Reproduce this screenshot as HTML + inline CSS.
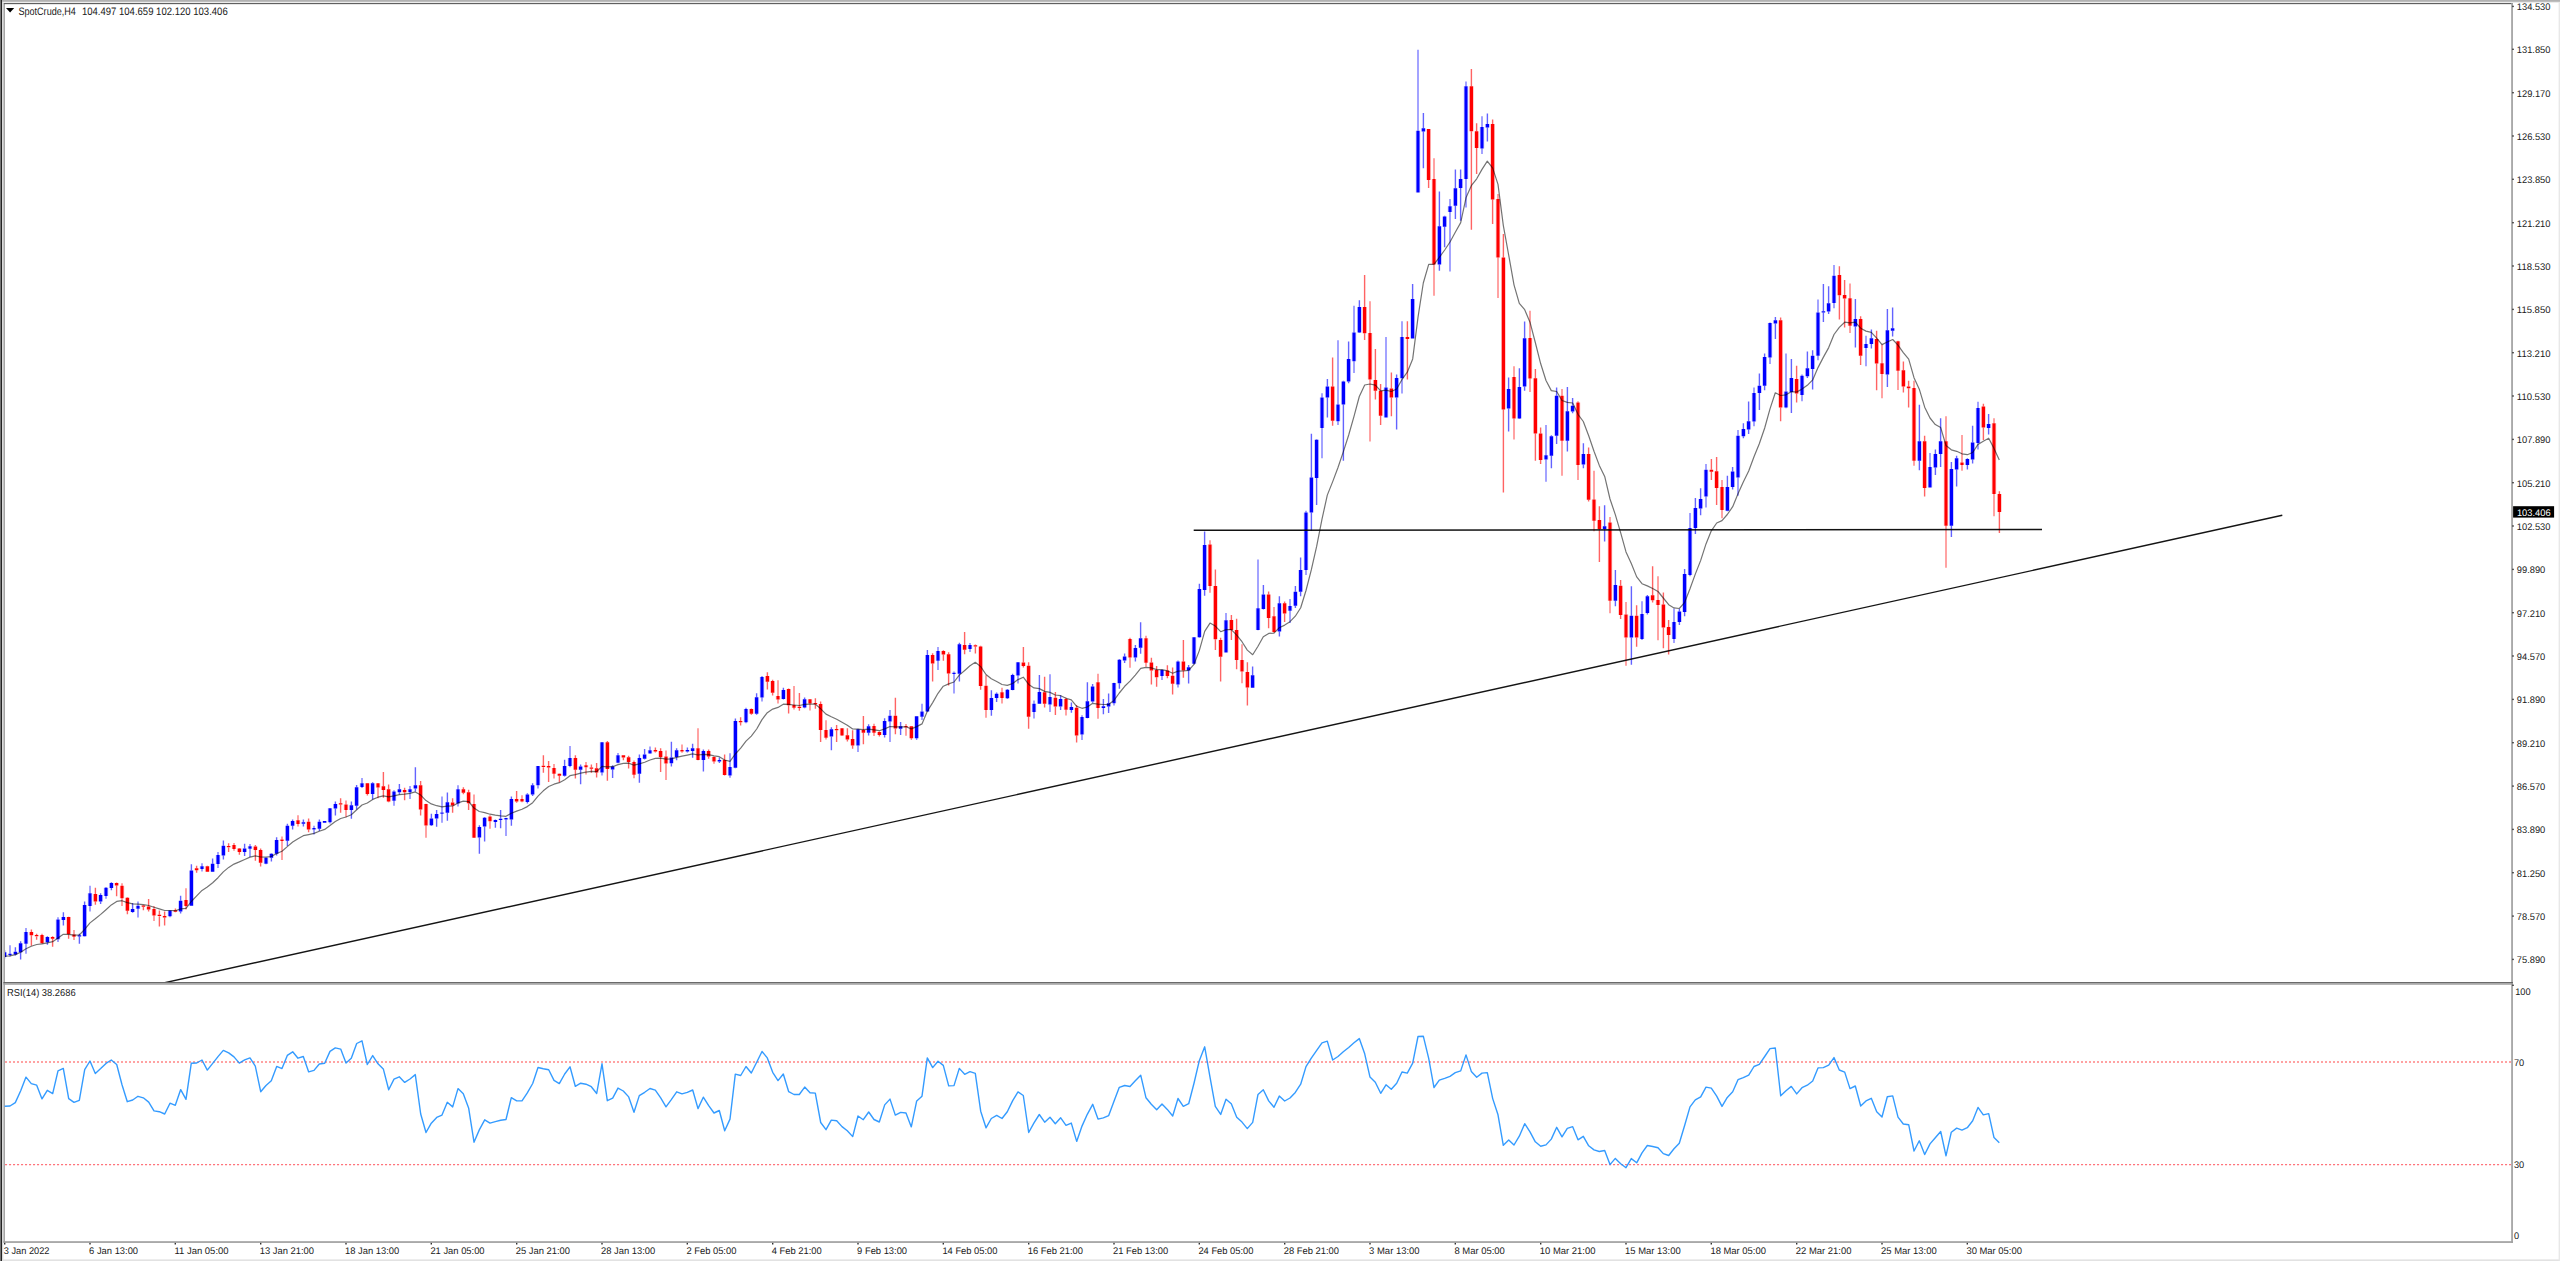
<!DOCTYPE html>
<html><head><meta charset="utf-8"><title>SpotCrude,H4</title>
<style>
html,body{margin:0;padding:0;background:#fff;overflow:hidden}
body{width:2560px;height:1261px;position:relative;font-family:"Liberation Sans",sans-serif}
svg{position:absolute;left:0;top:0;display:block;text-rendering:geometricPrecision}
text{font-family:"Liberation Sans",sans-serif;fill:#1a1a1a}
</style></head><body>
<svg width="2560" height="1261" viewBox="0 0 2560 1261">
<rect x="0" y="0" width="2560" height="1261" fill="#ffffff"/>

<g id="frame">
<rect x="0" y="0" width="2560" height="1.9" fill="#b2b2b2"/>
<rect x="0" y="1.9" width="2560" height="1.1" fill="#ececec"/>
<rect x="0" y="0" width="0.95" height="1261" fill="#747474"/>
<rect x="0.95" y="0" width="1.05" height="1261" fill="#232323"/>
<rect x="2" y="2" width="1.3" height="1259" fill="#dadada"/>
<rect x="2" y="1259.4" width="2560" height="1.6" fill="#e2e2e2"/>
<rect x="2558.6" y="2" width="1.4" height="1261" fill="#e8e8e8"/>
<rect x="3.4" y="3" width="1.6" height="1239.5" fill="#a6a6a6"/>
<rect x="3.9" y="3" width="2509" height="1.15" fill="#606060"/>
<rect x="2511.2" y="3" width="1.7" height="1240" fill="#a0a0a0"/>
<rect x="3.4" y="1241.2" width="2509.5" height="1.7" fill="#a0a0a0"/>
<rect x="3.4" y="982.1" width="2509.5" height="1.2" fill="#5a5a5a"/>
<rect x="3.4" y="983.3" width="2509.5" height="1.4" fill="#9a9a9a"/>
</g>
<g id="candles">
<path fill="#00f" fill-opacity="0.06" d="M7 953.7h1v1.4h-1zM12 953.7h1v1.4h-1zM16 947.2h1v4.5h-1zM16 954.6h1v1.0h-1zM19 941.3h1v2.0h-1zM19 952.2h1v7.4h-1zM23 931.9h1v11.8h-1zM28 931.9h1v11.8h-1zM48 936.3h1v0.8h-1zM48 942.3h1v2.4h-1zM55 919.5h1v19.8h-1zM60 919.5h1v19.8h-1zM64 912.3h1v4.7h-1zM64 920.0h1v5.4h-1zM80 933.8h1v1.4h-1zM80 936.6h1v7.1h-1zM83 901.6h1v3.5h-1zM83 936.3h1v0.2h-1zM87 893.2h1v12.9h-1zM92 893.2h1v12.9h-1zM99 893.2h1v1.7h-1zM99 901.4h1v2.7h-1zM103 887.8h1v8.1h-1zM108 887.8h1v8.1h-1zM112 882.3h1v0.7h-1zM112 887.9h1v2.3h-1zM131 903.1h1v6.0h-1zM131 912.0h1v0.7h-1zM135 905.8h1v3.0h-1zM140 905.8h1v3.0h-1zM167 910.5h1v5.8h-1zM172 910.5h1v5.8h-1zM179 895.7h1v5.1h-1zM179 911.5h1v2.0h-1zM192 864.3h1v6.2h-1zM199 866.2h1v2.9h-1zM204 866.2h1v2.9h-1zM211 858.5h1v5.3h-1zM211 871.8h1v0.3h-1zM215 854.9h1v9.1h-1zM220 854.9h1v9.1h-1zM224 840.5h1v5.3h-1zM224 855.5h1v4.1h-1zM243 843.8h1v4.7h-1zM243 852.1h1v3.9h-1zM247 846.3h1v2.5h-1zM252 846.3h1v2.5h-1zM263 857.7h1v6.1h-1zM268 857.7h1v6.1h-1zM272 853.2h1v0.6h-1zM272 857.7h1v3.9h-1zM275 837.2h1v2.7h-1zM275 853.8h1v1.7h-1zM288 823.8h1v2.0h-1zM288 840.7h1v5.3h-1zM291 819.6h1v1.5h-1zM291 825.8h1v3.6h-1zM304 819.6h1v2.6h-1zM304 823.8h1v2.8h-1zM311 828.0h1v1.6h-1zM316 828.0h1v1.6h-1zM320 819.4h1v2.4h-1zM320 828.8h1v2.2h-1zM327 808.3h1v13.9h-1zM332 808.3h1v13.9h-1zM336 801.6h1v2.3h-1zM336 808.5h1v7.0h-1zM352 801.4h1v3.8h-1zM352 810.0h1v8.8h-1zM355 785.0h1v2.2h-1zM355 805.8h1v3.6h-1zM359 783.3h1v3.7h-1zM364 783.3h1v3.7h-1zM371 782.2h1v1.1h-1zM371 793.9h1v5.5h-1zM391 791.4h1v9.3h-1zM396 791.4h1v9.3h-1zM400 783.9h1v5.3h-1zM400 792.2h1v2.2h-1zM407 789.2h1v3.0h-1zM412 789.2h1v3.0h-1zM416 767.2h1v18.1h-1zM416 788.6h1v3.0h-1zM432 813.8h1v4.8h-1zM432 825.2h1v0.8h-1zM435 810.1h1v4.0h-1zM435 818.6h1v8.2h-1zM439 812.4h1v1.4h-1zM444 812.4h1v1.4h-1zM448 792.4h1v9.8h-1zM448 812.7h1v8.1h-1zM455 789.2h1v14.3h-1zM460 789.2h1v14.3h-1zM480 825.2h1v1.9h-1zM480 837.4h1v16.4h-1zM483 817.1h1v0.6h-1zM483 826.6h1v15.0h-1zM496 819.4h1v0.5h-1zM496 821.9h1v5.8h-1zM499 810.1h1v8.6h-1zM499 820.0h1v8.2h-1zM503 818.1h1v1.3h-1zM508 818.1h1v1.3h-1zM512 796.4h1v2.6h-1zM512 819.4h1v6.3h-1zM528 793.3h1v1.1h-1zM528 801.9h1v1.6h-1zM531 783.3h1v1.9h-1zM531 794.6h1v1.4h-1zM535 766.1h1v19.2h-1zM540 766.1h1v19.2h-1zM563 759.7h1v6.4h-1zM563 775.7h1v0.7h-1zM567 758.0h1v8.1h-1zM572 758.0h1v8.1h-1zM579 764.4h1v2.2h-1zM579 769.7h1v14.5h-1zM599 742.2h1v30.2h-1zM604 742.2h1v30.2h-1zM611 765.3h1v1.1h-1zM611 769.4h1v8.6h-1zM615 755.3h1v7.4h-1zM620 755.3h1v7.4h-1zM640 754.4h1v3.6h-1zM640 773.8h1v8.9h-1zM643 749.1h1v5.3h-1zM643 758.8h1v0.6h-1zM647 750.2h1v3.4h-1zM652 750.2h1v3.4h-1zM672 741.8h1v15.6h-1zM672 763.2h1v3.4h-1zM675 748.3h1v1.9h-1zM675 757.1h1v3.1h-1zM688 747.4h1v2.7h-1zM688 751.5h1v1.0h-1zM691 743.8h1v4.5h-1zM691 751.0h1v6.7h-1zM704 749.4h1v1.6h-1zM704 759.9h1v11.7h-1zM720 757.4h1v2.5h-1zM720 761.6h1v1.3h-1zM727 767.1h1v8.3h-1zM732 767.1h1v8.3h-1zM736 718.5h1v2.6h-1zM736 767.7h1v0.5h-1zM743 709.1h1v13.1h-1zM748 709.1h1v13.1h-1zM755 693.3h1v3.9h-1zM755 713.8h1v0.9h-1zM759 677.0h1v20.4h-1zM764 677.0h1v20.4h-1zM784 687.8h1v2.2h-1zM784 698.9h1v0.5h-1zM803 697.4h1v1.8h-1zM803 707.4h1v0.9h-1zM832 727.2h1v2.0h-1zM832 736.6h1v13.6h-1zM855 729.3h1v16.1h-1zM860 729.3h1v16.1h-1zM867 724.3h1v2.0h-1zM867 732.7h1v2.7h-1zM883 718.2h1v2.8h-1zM883 734.9h1v2.5h-1zM887 715.7h1v5.9h-1zM892 715.7h1v5.9h-1zM899 722.1h1v4.2h-1zM899 728.8h1v6.1h-1zM915 716.0h1v0.3h-1zM915 738.2h1v1.5h-1zM919 711.6h1v5.2h-1zM924 711.6h1v5.2h-1zM928 650.0h1v5.0h-1zM928 711.6h1v0.3h-1zM935 651.1h1v9.7h-1zM940 651.1h1v9.7h-1zM951 672.8h1v1.3h-1zM956 672.8h1v1.3h-1zM960 642.8h1v1.4h-1zM960 673.8h1v7.8h-1zM967 645.0h1v3.9h-1zM972 645.0h1v3.9h-1zM992 690.2h1v7.7h-1zM992 709.9h1v5.8h-1zM995 692.4h1v1.4h-1zM995 697.9h1v4.0h-1zM1008 689.0h1v0.7h-1zM1008 698.3h1v0.7h-1zM1011 673.8h1v1.1h-1zM1011 689.9h1v0.3h-1zM1015 662.2h1v13.3h-1zM1020 662.2h1v13.3h-1zM1031 703.8h1v8.1h-1zM1036 703.8h1v8.1h-1zM1040 674.9h1v17.0h-1zM1040 703.8h1v0.3h-1zM1047 697.1h1v7.5h-1zM1052 697.1h1v7.5h-1zM1059 695.3h1v3.7h-1zM1059 706.6h1v3.3h-1zM1072 702.4h1v4.7h-1zM1072 709.9h1v2.8h-1zM1079 717.1h1v17.4h-1zM1084 717.1h1v17.4h-1zM1088 682.2h1v19.0h-1zM1088 717.9h1v0.3h-1zM1091 684.1h1v2.3h-1zM1091 701.6h1v1.1h-1zM1104 699.0h1v7.3h-1zM1104 707.9h1v6.4h-1zM1107 693.5h1v9.7h-1zM1107 706.6h1v6.4h-1zM1111 683.0h1v20.2h-1zM1116 683.0h1v20.2h-1zM1120 659.1h1v0.6h-1zM1120 683.3h1v5.5h-1zM1123 653.5h1v2.9h-1zM1123 660.5h1v2.6h-1zM1136 645.0h1v3.0h-1zM1136 657.5h1v4.1h-1zM1139 622.2h1v16.1h-1zM1139 647.7h1v6.1h-1zM1159 669.9h1v6.1h-1zM1164 669.9h1v6.1h-1zM1175 661.6h1v23.0h-1zM1180 661.6h1v23.0h-1zM1187 664.9h1v2.3h-1zM1187 670.5h1v13.0h-1zM1191 637.2h1v26.6h-1zM1196 637.2h1v26.6h-1zM1200 583.8h1v5.3h-1zM1200 637.3h1v0.4h-1zM1203 531.4h1v13.6h-1zM1203 589.9h1v5.9h-1zM1223 620.2h1v32.2h-1zM1228 620.2h1v32.2h-1zM1251 666.4h1v8.9h-1zM1255 608.2h1v21.7h-1zM1260 608.2h1v21.7h-1zM1264 584.9h1v9.5h-1zM1264 609.1h1v0.5h-1zM1280 596.3h1v6.9h-1zM1280 631.6h1v4.9h-1zM1287 606.0h1v4.7h-1zM1292 606.0h1v4.7h-1zM1296 586.0h1v5.8h-1zM1296 605.8h1v2.2h-1zM1299 557.4h1v12.5h-1zM1299 591.8h1v4.5h-1zM1303 512.4h1v57.5h-1zM1308 512.4h1v57.5h-1zM1312 433.7h1v43.8h-1zM1312 512.4h1v18.3h-1zM1315 439.2h1v0.5h-1zM1315 478.0h1v26.9h-1zM1319 397.4h1v30.5h-1zM1324 397.4h1v30.5h-1zM1328 379.1h1v7.5h-1zM1328 397.4h1v20.0h-1zM1335 404.5h1v16.7h-1zM1340 404.5h1v16.7h-1zM1344 380.7h1v0.9h-1zM1344 404.5h1v56.3h-1zM1347 341.6h1v17.5h-1zM1347 381.6h1v1.6h-1zM1351 332.4h1v28.8h-1zM1356 332.4h1v28.8h-1zM1360 300.3h1v6.7h-1zM1360 332.4h1v0.5h-1zM1383 387.4h1v30.0h-1zM1388 387.4h1v30.0h-1zM1395 374.6h1v3.3h-1zM1395 397.4h1v32.1h-1zM1399 336.9h1v41.3h-1zM1404 336.9h1v41.3h-1zM1411 284.1h1v15.0h-1zM1415 130.8h1v61.6h-1zM1420 130.8h1v61.6h-1zM1424 112.9h1v15.4h-1zM1424 131.6h1v36.6h-1zM1440 191.5h1v34.7h-1zM1440 264.6h1v6.2h-1zM1443 215.7h1v0.8h-1zM1443 226.8h1v20.5h-1zM1447 206.2h1v5.7h-1zM1452 206.2h1v5.7h-1zM1456 169.6h1v18.6h-1zM1456 205.7h1v13.3h-1zM1459 169.6h1v9.5h-1zM1459 187.9h1v32.8h-1zM1463 86.3h1v92.8h-1zM1468 86.3h1v92.8h-1zM1479 126.9h1v21.7h-1zM1484 126.9h1v21.7h-1zM1488 113.6h1v10.5h-1zM1488 127.4h1v14.2h-1zM1507 377.4h1v11.7h-1zM1507 408.6h1v23.0h-1zM1520 368.3h1v18.6h-1zM1520 418.6h1v0.5h-1zM1523 321.6h1v16.7h-1zM1523 386.6h1v4.2h-1zM1543 455.2h1v4.3h-1zM1548 455.2h1v4.3h-1zM1552 435.2h1v1.0h-1zM1552 455.7h1v12.5h-1zM1555 387.4h1v8.4h-1zM1555 435.7h1v8.3h-1zM1568 386.9h1v24.3h-1zM1568 440.7h1v10.8h-1zM1571 397.9h1v7.8h-1zM1571 411.6h1v1.6h-1zM1584 443.2h1v10.8h-1zM1584 464.5h1v3.7h-1zM1603 505.3h1v21.0h-1zM1603 529.1h1v12.5h-1zM1616 569.9h1v15.0h-1zM1616 600.7h1v5.5h-1zM1632 586.2h1v29.5h-1zM1632 637.4h1v27.4h-1zM1639 614.0h1v25.0h-1zM1644 614.0h1v25.0h-1zM1648 594.9h1v1.3h-1zM1648 612.9h1v1.6h-1zM1671 621.9h1v17.1h-1zM1676 621.9h1v17.1h-1zM1680 609.0h1v2.5h-1zM1680 621.9h1v3.0h-1zM1683 569.1h1v5.0h-1zM1683 611.9h1v4.3h-1zM1687 527.9h1v47.0h-1zM1692 527.9h1v47.0h-1zM1696 498.0h1v10.0h-1zM1696 527.9h1v6.2h-1zM1699 488.3h1v10.8h-1zM1699 508.6h1v6.7h-1zM1703 469.7h1v26.9h-1zM1708 469.7h1v26.9h-1zM1728 475.8h1v11.1h-1zM1728 510.7h1v0.5h-1zM1731 466.9h1v4.7h-1zM1731 486.9h1v2.7h-1zM1735 435.8h1v41.6h-1zM1740 435.8h1v41.6h-1zM1744 423.2h1v5.8h-1zM1744 436.2h1v2.0h-1zM1747 401.5h1v19.7h-1zM1747 429.5h1v4.5h-1zM1751 392.9h1v28.6h-1zM1756 392.9h1v28.6h-1zM1760 373.6h1v12.1h-1zM1760 392.9h1v17.0h-1zM1763 353.6h1v3.3h-1zM1763 385.7h1v4.5h-1zM1767 322.9h1v34.5h-1zM1772 322.9h1v34.5h-1zM1776 316.9h1v3.4h-1zM1776 323.6h1v15.5h-1zM1783 391.6h1v15.8h-1zM1788 391.6h1v15.8h-1zM1792 359.1h1v18.8h-1zM1792 391.9h1v21.0h-1zM1799 375.7h1v19.2h-1zM1804 375.7h1v19.2h-1zM1808 351.6h1v16.6h-1zM1808 376.2h1v1.7h-1zM1811 350.3h1v5.4h-1zM1811 369.1h1v20.5h-1zM1815 312.5h1v43.2h-1zM1820 312.5h1v43.2h-1zM1824 284.1h1v27.1h-1zM1824 312.6h1v9.3h-1zM1827 286.3h1v17.0h-1zM1827 311.6h1v2.5h-1zM1831 275.8h1v27.2h-1zM1836 275.8h1v27.2h-1zM1856 299.1h1v20.0h-1zM1856 326.6h1v20.8h-1zM1863 344.1h1v3.8h-1zM1868 344.1h1v3.8h-1zM1872 329.6h1v8.7h-1zM1872 344.1h1v4.5h-1zM1888 309.1h1v21.2h-1zM1888 374.6h1v12.3h-1zM1891 307.5h1v20.8h-1zM1891 330.8h1v5.8h-1zM1920 404.7h1v36.6h-1zM1920 460.8h1v9.5h-1zM1927 466.9h1v20.5h-1zM1932 466.9h1v20.5h-1zM1936 449.6h1v4.5h-1zM1936 467.4h1v7.5h-1zM1939 418.3h1v23.0h-1zM1939 454.1h1v12.8h-1zM1952 461.9h1v7.2h-1zM1952 525.7h1v11.2h-1zM1955 455.8h1v2.5h-1zM1955 469.6h1v17.0h-1zM1968 458.3h1v0.8h-1zM1968 464.9h1v4.7h-1zM1971 425.8h1v16.7h-1zM1971 459.6h1v4.0h-1zM1975 408.0h1v35.0h-1zM1980 408.0h1v35.0h-1zM1987 414.1h1v10.0h-1zM1987 428.0h1v6.6h-1z"/>
<path fill="#00f" fill-opacity="0.19" d="M5 950.2h1v2.0h-1zM5 957.1h1v1.5h-1zM14 947.2h1v4.5h-1zM14 954.6h1v1.0h-1zM17 951.7h1v2.9h-1zM18 943.3h1v8.9h-1zM21 941.3h1v2.0h-1zM21 952.2h1v7.4h-1zM46 936.3h1v0.8h-1zM46 942.3h1v2.4h-1zM49 937.1h1v5.2h-1zM62 912.3h1v4.7h-1zM62 920.0h1v5.4h-1zM65 917.0h1v3.0h-1zM78 933.8h1v1.4h-1zM78 936.6h1v7.1h-1zM81 935.2h1v1.3h-1zM82 905.1h1v31.2h-1zM85 901.6h1v3.5h-1zM85 936.3h1v0.2h-1zM98 894.9h1v6.5h-1zM101 893.2h1v1.7h-1zM101 901.4h1v2.7h-1zM110 882.3h1v0.7h-1zM110 887.9h1v2.3h-1zM113 883.0h1v4.9h-1zM130 909.1h1v2.9h-1zM133 903.1h1v6.0h-1zM133 912.0h1v0.7h-1zM178 900.8h1v10.7h-1zM181 895.7h1v5.1h-1zM181 911.5h1v2.0h-1zM190 864.3h1v6.2h-1zM193 870.5h1v35.2h-1zM210 863.8h1v8.0h-1zM213 858.5h1v5.3h-1zM213 871.8h1v0.3h-1zM222 840.5h1v5.3h-1zM222 855.5h1v4.1h-1zM225 845.8h1v9.7h-1zM242 848.5h1v3.6h-1zM245 843.8h1v4.7h-1zM245 852.1h1v3.9h-1zM270 853.2h1v0.6h-1zM270 857.7h1v3.9h-1zM273 853.8h1v3.9h-1zM274 839.9h1v13.9h-1zM277 837.2h1v2.7h-1zM277 853.8h1v1.7h-1zM286 823.8h1v2.0h-1zM286 840.7h1v5.3h-1zM289 825.8h1v14.9h-1zM290 821.1h1v4.7h-1zM293 819.6h1v1.5h-1zM293 825.8h1v3.6h-1zM302 819.6h1v2.6h-1zM302 823.8h1v2.8h-1zM305 822.2h1v1.6h-1zM318 819.4h1v2.4h-1zM318 828.8h1v2.2h-1zM321 821.8h1v7.0h-1zM322 821.1h1v1.6h-1zM334 801.6h1v2.3h-1zM334 808.5h1v7.0h-1zM337 803.9h1v4.6h-1zM350 801.4h1v3.8h-1zM350 810.0h1v8.8h-1zM353 805.2h1v4.8h-1zM354 787.2h1v18.6h-1zM357 785.0h1v2.2h-1zM357 805.8h1v3.6h-1zM370 783.3h1v10.6h-1zM373 782.2h1v1.1h-1zM373 793.9h1v5.5h-1zM398 783.9h1v5.3h-1zM398 792.2h1v2.2h-1zM401 789.2h1v3.0h-1zM414 767.2h1v18.1h-1zM414 788.6h1v3.0h-1zM417 785.3h1v3.3h-1zM430 813.8h1v4.8h-1zM430 825.2h1v0.8h-1zM433 818.6h1v6.6h-1zM434 814.1h1v4.5h-1zM437 810.1h1v4.0h-1zM437 818.6h1v8.2h-1zM446 792.4h1v9.8h-1zM446 812.7h1v8.1h-1zM449 802.2h1v10.5h-1zM478 825.2h1v1.9h-1zM478 837.4h1v16.4h-1zM481 827.1h1v10.3h-1zM482 817.7h1v8.9h-1zM485 817.1h1v0.6h-1zM485 826.6h1v15.0h-1zM494 819.4h1v0.5h-1zM494 821.9h1v5.8h-1zM497 819.9h1v2.0h-1zM498 818.7h1v1.3h-1zM501 810.1h1v8.6h-1zM501 820.0h1v8.2h-1zM510 796.4h1v2.6h-1zM510 819.4h1v6.3h-1zM513 799.0h1v20.4h-1zM526 793.3h1v1.1h-1zM526 801.9h1v1.6h-1zM529 794.4h1v7.5h-1zM530 785.2h1v9.4h-1zM533 783.3h1v1.9h-1zM533 794.6h1v1.4h-1zM562 766.1h1v9.6h-1zM565 759.7h1v6.4h-1zM565 775.7h1v0.7h-1zM578 766.6h1v3.1h-1zM581 764.4h1v2.2h-1zM581 769.7h1v14.5h-1zM610 766.4h1v3.0h-1zM613 765.3h1v1.1h-1zM613 769.4h1v8.6h-1zM638 754.4h1v3.6h-1zM638 773.8h1v8.9h-1zM641 758.0h1v15.8h-1zM642 754.4h1v4.4h-1zM645 749.1h1v5.3h-1zM645 758.8h1v0.6h-1zM670 741.8h1v15.6h-1zM670 763.2h1v3.4h-1zM673 757.4h1v5.8h-1zM674 750.2h1v6.9h-1zM677 748.3h1v1.9h-1zM677 757.1h1v3.1h-1zM686 747.4h1v2.7h-1zM686 751.5h1v1.0h-1zM689 750.1h1v1.3h-1zM690 748.3h1v2.7h-1zM693 743.8h1v4.5h-1zM693 751.0h1v6.7h-1zM702 749.4h1v1.6h-1zM702 759.9h1v11.7h-1zM705 751.0h1v8.9h-1zM718 757.4h1v2.5h-1zM718 761.6h1v1.3h-1zM721 759.9h1v1.7h-1zM734 718.5h1v2.6h-1zM734 767.7h1v0.5h-1zM737 721.1h1v46.6h-1zM754 697.2h1v16.6h-1zM757 693.3h1v3.9h-1zM757 713.8h1v0.9h-1zM782 687.8h1v2.2h-1zM782 698.9h1v0.5h-1zM785 690.0h1v8.9h-1zM802 699.2h1v8.2h-1zM805 697.4h1v1.8h-1zM805 707.4h1v0.9h-1zM830 727.2h1v2.0h-1zM830 736.6h1v13.6h-1zM833 729.2h1v7.4h-1zM866 726.3h1v6.4h-1zM869 724.3h1v2.0h-1zM869 732.7h1v2.7h-1zM882 721.0h1v13.9h-1zM885 718.2h1v2.8h-1zM885 734.9h1v2.5h-1zM898 726.3h1v2.5h-1zM901 722.1h1v4.2h-1zM901 728.8h1v6.1h-1zM914 716.3h1v21.9h-1zM917 716.0h1v0.3h-1zM917 738.2h1v1.5h-1zM926 650.0h1v5.0h-1zM926 711.6h1v0.3h-1zM929 655.0h1v56.6h-1zM958 642.8h1v1.4h-1zM958 673.8h1v7.8h-1zM961 644.2h1v29.6h-1zM990 690.2h1v7.7h-1zM990 709.9h1v5.8h-1zM993 697.9h1v12.0h-1zM994 693.8h1v4.1h-1zM997 692.4h1v1.4h-1zM997 697.9h1v4.0h-1zM1006 689.0h1v0.7h-1zM1006 698.3h1v0.7h-1zM1009 689.7h1v8.6h-1zM1010 674.9h1v15.0h-1zM1013 673.8h1v1.1h-1zM1013 689.9h1v0.3h-1zM1038 674.9h1v17.0h-1zM1038 703.8h1v0.3h-1zM1041 691.9h1v11.9h-1zM1058 699.0h1v7.6h-1zM1061 695.3h1v3.7h-1zM1061 706.6h1v3.3h-1zM1070 702.4h1v4.7h-1zM1070 709.9h1v2.8h-1zM1073 707.1h1v2.8h-1zM1086 682.2h1v19.0h-1zM1086 717.9h1v0.3h-1zM1089 701.2h1v16.7h-1zM1090 686.4h1v15.2h-1zM1093 684.1h1v2.3h-1zM1093 701.6h1v1.1h-1zM1102 699.0h1v7.3h-1zM1102 707.9h1v6.4h-1zM1105 706.3h1v1.6h-1zM1106 703.2h1v3.4h-1zM1109 693.5h1v9.7h-1zM1109 706.6h1v6.4h-1zM1118 659.1h1v0.6h-1zM1118 683.3h1v5.5h-1zM1121 659.7h1v23.6h-1zM1122 656.4h1v4.1h-1zM1125 653.5h1v2.9h-1zM1125 660.5h1v2.6h-1zM1134 645.0h1v3.0h-1zM1134 657.5h1v4.1h-1zM1137 648.0h1v9.5h-1zM1138 638.3h1v9.4h-1zM1141 622.2h1v16.1h-1zM1141 647.7h1v6.1h-1zM1186 667.2h1v3.3h-1zM1189 664.9h1v2.3h-1zM1189 670.5h1v13.0h-1zM1198 583.8h1v5.3h-1zM1198 637.3h1v0.4h-1zM1201 589.1h1v48.2h-1zM1202 545.0h1v44.9h-1zM1205 531.4h1v13.6h-1zM1205 589.9h1v5.9h-1zM1250 675.3h1v12.4h-1zM1253 666.4h1v8.9h-1zM1262 584.9h1v9.5h-1zM1262 609.1h1v0.5h-1zM1265 594.4h1v14.7h-1zM1278 596.3h1v6.9h-1zM1278 631.6h1v4.9h-1zM1281 603.2h1v28.4h-1zM1294 586.0h1v5.8h-1zM1294 605.8h1v2.2h-1zM1297 591.8h1v14.0h-1zM1298 569.9h1v21.9h-1zM1301 557.4h1v12.5h-1zM1301 591.8h1v4.5h-1zM1310 433.7h1v43.8h-1zM1310 512.4h1v18.3h-1zM1313 477.5h1v34.9h-1zM1314 439.7h1v38.3h-1zM1317 439.2h1v0.5h-1zM1317 478.0h1v26.9h-1zM1326 379.1h1v7.5h-1zM1326 397.4h1v20.0h-1zM1329 386.6h1v10.8h-1zM1342 380.7h1v0.9h-1zM1342 404.5h1v56.3h-1zM1345 381.6h1v22.9h-1zM1346 359.1h1v22.5h-1zM1349 341.6h1v17.5h-1zM1349 381.6h1v1.6h-1zM1358 300.3h1v6.7h-1zM1358 332.4h1v0.5h-1zM1361 307.0h1v25.4h-1zM1394 377.9h1v19.5h-1zM1397 374.6h1v3.3h-1zM1397 397.4h1v32.1h-1zM1410 299.1h1v39.5h-1zM1413 284.1h1v15.0h-1zM1422 112.9h1v15.4h-1zM1422 131.6h1v36.6h-1zM1425 128.3h1v3.3h-1zM1438 191.5h1v34.7h-1zM1438 264.6h1v6.2h-1zM1441 226.2h1v38.4h-1zM1442 216.5h1v10.3h-1zM1445 215.7h1v0.8h-1zM1445 226.8h1v20.5h-1zM1454 169.6h1v18.6h-1zM1454 205.7h1v13.3h-1zM1457 188.2h1v17.5h-1zM1458 179.1h1v8.8h-1zM1461 169.6h1v9.5h-1zM1461 187.9h1v32.8h-1zM1486 113.6h1v10.5h-1zM1486 127.4h1v14.2h-1zM1489 124.1h1v3.3h-1zM1506 389.1h1v19.5h-1zM1509 377.4h1v11.7h-1zM1509 408.6h1v23.0h-1zM1518 368.3h1v18.6h-1zM1518 418.6h1v0.5h-1zM1521 386.9h1v31.7h-1zM1522 338.3h1v48.3h-1zM1525 321.6h1v16.7h-1zM1525 386.6h1v4.2h-1zM1550 435.2h1v1.0h-1zM1550 455.7h1v12.5h-1zM1553 436.2h1v19.5h-1zM1554 395.8h1v39.9h-1zM1557 387.4h1v8.4h-1zM1557 435.7h1v8.3h-1zM1566 386.9h1v24.3h-1zM1566 440.7h1v10.8h-1zM1569 411.2h1v29.5h-1zM1570 405.7h1v5.9h-1zM1573 397.9h1v7.8h-1zM1573 411.6h1v1.6h-1zM1582 443.2h1v10.8h-1zM1582 464.5h1v3.7h-1zM1585 454.0h1v10.5h-1zM1602 526.3h1v2.8h-1zM1605 505.3h1v21.0h-1zM1605 529.1h1v12.5h-1zM1614 569.9h1v15.0h-1zM1614 600.7h1v5.5h-1zM1617 584.9h1v15.8h-1zM1630 586.2h1v29.5h-1zM1630 637.4h1v27.4h-1zM1633 615.7h1v21.7h-1zM1646 594.9h1v1.3h-1zM1646 612.9h1v1.6h-1zM1649 596.2h1v16.7h-1zM1678 609.0h1v2.5h-1zM1678 621.9h1v3.0h-1zM1681 611.5h1v10.4h-1zM1682 574.1h1v37.8h-1zM1685 569.1h1v5.0h-1zM1685 611.9h1v4.3h-1zM1694 498.0h1v10.0h-1zM1694 527.9h1v6.2h-1zM1697 508.0h1v19.9h-1zM1698 499.1h1v9.5h-1zM1701 488.3h1v10.8h-1zM1701 508.6h1v6.7h-1zM1726 475.8h1v11.1h-1zM1726 510.7h1v0.5h-1zM1729 486.9h1v23.8h-1zM1730 471.6h1v15.3h-1zM1733 466.9h1v4.7h-1zM1733 486.9h1v2.7h-1zM1742 423.2h1v5.8h-1zM1742 436.2h1v2.0h-1zM1745 429.0h1v7.2h-1zM1746 421.2h1v8.3h-1zM1749 401.5h1v19.7h-1zM1749 429.5h1v4.5h-1zM1758 373.6h1v12.1h-1zM1758 392.9h1v17.0h-1zM1761 385.7h1v7.2h-1zM1762 356.9h1v28.8h-1zM1765 353.6h1v3.3h-1zM1765 385.7h1v4.5h-1zM1774 316.9h1v3.4h-1zM1774 323.6h1v15.5h-1zM1777 320.3h1v3.3h-1zM1790 359.1h1v18.8h-1zM1790 391.9h1v21.0h-1zM1793 377.9h1v14.0h-1zM1806 351.6h1v16.6h-1zM1806 376.2h1v1.7h-1zM1809 368.2h1v8.0h-1zM1810 355.7h1v13.4h-1zM1813 350.3h1v5.4h-1zM1813 369.1h1v20.5h-1zM1822 284.1h1v27.1h-1zM1822 312.6h1v9.3h-1zM1825 311.2h1v1.3h-1zM1826 303.3h1v8.3h-1zM1829 286.3h1v17.0h-1zM1829 311.6h1v2.5h-1zM1854 299.1h1v20.0h-1zM1854 326.6h1v20.8h-1zM1857 319.1h1v7.5h-1zM1870 329.6h1v8.7h-1zM1870 344.1h1v4.5h-1zM1873 338.3h1v5.8h-1zM1886 309.1h1v21.2h-1zM1886 374.6h1v12.3h-1zM1889 330.3h1v44.3h-1zM1890 328.3h1v2.5h-1zM1893 307.5h1v20.8h-1zM1893 330.8h1v5.8h-1zM1918 404.7h1v36.6h-1zM1918 460.8h1v9.5h-1zM1921 441.3h1v19.5h-1zM1934 449.6h1v4.5h-1zM1934 467.4h1v7.5h-1zM1937 454.1h1v13.3h-1zM1938 441.3h1v12.8h-1zM1941 418.3h1v23.0h-1zM1941 454.1h1v12.8h-1zM1950 461.9h1v7.2h-1zM1950 525.7h1v11.2h-1zM1953 469.1h1v56.6h-1zM1954 458.3h1v11.3h-1zM1957 455.8h1v2.5h-1zM1957 469.6h1v17.0h-1zM1966 458.3h1v0.8h-1zM1966 464.9h1v4.7h-1zM1969 459.1h1v5.8h-1zM1970 442.5h1v17.1h-1zM1973 425.8h1v16.7h-1zM1973 459.6h1v4.0h-1zM1986 424.1h1v3.9h-1zM1989 414.1h1v10.0h-1zM1989 428.0h1v6.6h-1z"/>
<path fill="#00f" fill-opacity="0.36" d="M6 952.2h1v4.9h-1zM9 945.2h1v8.5h-1zM9 955.1h1v1.5h-1zM10 945.2h1v8.5h-1zM10 955.1h1v1.5h-1zM13 951.7h1v2.9h-1zM22 943.3h1v8.9h-1zM25 927.9h1v4.0h-1zM25 943.7h1v10.0h-1zM26 927.9h1v4.0h-1zM26 943.7h1v10.0h-1zM45 937.1h1v5.2h-1zM57 917.3h1v2.2h-1zM57 939.3h1v2.8h-1zM58 917.3h1v2.2h-1zM58 939.3h1v2.8h-1zM61 917.0h1v3.0h-1zM77 935.2h1v1.3h-1zM86 905.1h1v31.2h-1zM89 885.8h1v7.4h-1zM89 906.1h1v5.4h-1zM90 885.8h1v7.4h-1zM90 906.1h1v5.4h-1zM102 894.9h1v6.5h-1zM105 887.0h1v0.8h-1zM105 895.9h1v2.8h-1zM106 887.0h1v0.8h-1zM106 895.9h1v2.8h-1zM109 883.0h1v4.9h-1zM134 909.1h1v2.9h-1zM137 901.6h1v4.2h-1zM137 908.8h1v8.7h-1zM138 901.6h1v4.2h-1zM138 908.8h1v8.7h-1zM169 910.0h1v0.5h-1zM169 916.3h1v1.0h-1zM170 910.0h1v0.5h-1zM170 916.3h1v1.0h-1zM182 900.8h1v10.7h-1zM189 870.5h1v35.2h-1zM201 863.2h1v3.0h-1zM201 869.1h1v2.5h-1zM202 863.2h1v3.0h-1zM202 869.1h1v2.5h-1zM214 863.8h1v8.0h-1zM217 852.1h1v2.8h-1zM217 864.0h1v4.0h-1zM218 852.1h1v2.8h-1zM218 864.0h1v4.0h-1zM221 845.8h1v9.7h-1zM246 848.5h1v3.6h-1zM249 844.0h1v2.3h-1zM249 848.8h1v8.3h-1zM250 844.0h1v2.3h-1zM250 848.8h1v8.3h-1zM265 857.4h1v0.3h-1zM265 863.8h1v0.5h-1zM266 857.4h1v0.3h-1zM266 863.8h1v0.5h-1zM269 853.8h1v3.9h-1zM278 839.9h1v13.9h-1zM285 825.8h1v14.9h-1zM294 821.1h1v4.7h-1zM301 822.2h1v1.6h-1zM313 825.8h1v2.2h-1zM313 829.6h1v4.8h-1zM314 825.8h1v2.2h-1zM314 829.6h1v4.8h-1zM317 821.8h1v7.0h-1zM326 821.1h1v1.6h-1zM329 808.1h1v0.2h-1zM329 822.2h1v1.4h-1zM330 808.1h1v0.2h-1zM330 822.2h1v1.4h-1zM333 803.9h1v4.6h-1zM349 805.2h1v4.8h-1zM358 787.2h1v18.6h-1zM361 778.1h1v5.2h-1zM361 787.0h1v1.1h-1zM362 778.1h1v5.2h-1zM362 787.0h1v1.1h-1zM374 783.3h1v10.6h-1zM393 790.3h1v1.1h-1zM393 800.7h1v5.1h-1zM394 790.3h1v1.1h-1zM394 800.7h1v5.1h-1zM397 789.2h1v3.0h-1zM409 786.1h1v3.1h-1zM409 792.2h1v6.7h-1zM410 786.1h1v3.1h-1zM410 792.2h1v6.7h-1zM413 785.3h1v3.3h-1zM429 818.6h1v6.6h-1zM438 814.1h1v4.5h-1zM441 796.4h1v16.0h-1zM441 813.8h1v8.9h-1zM442 796.4h1v16.0h-1zM442 813.8h1v8.9h-1zM445 802.2h1v10.5h-1zM457 785.2h1v4.0h-1zM457 803.5h1v3.1h-1zM458 785.2h1v4.0h-1zM458 803.5h1v3.1h-1zM477 827.1h1v10.3h-1zM486 817.7h1v8.9h-1zM493 819.9h1v2.0h-1zM502 818.7h1v1.3h-1zM505 817.7h1v0.4h-1zM505 819.5h1v16.5h-1zM506 817.7h1v0.4h-1zM506 819.5h1v16.5h-1zM509 799.0h1v20.4h-1zM525 794.4h1v7.5h-1zM534 785.2h1v9.4h-1zM537 785.3h1v3.3h-1zM538 785.3h1v3.3h-1zM566 766.1h1v9.6h-1zM569 745.9h1v12.1h-1zM569 766.1h1v1.1h-1zM570 745.9h1v12.1h-1zM570 766.1h1v1.1h-1zM582 766.6h1v3.1h-1zM601 742.0h1v0.2h-1zM601 772.4h1v3.1h-1zM602 742.0h1v0.2h-1zM602 772.4h1v3.1h-1zM614 766.4h1v3.0h-1zM617 753.1h1v2.2h-1zM617 762.7h1v0.6h-1zM618 753.1h1v2.2h-1zM618 762.7h1v0.6h-1zM637 758.0h1v15.8h-1zM646 754.4h1v4.4h-1zM649 746.6h1v3.6h-1zM649 753.6h1v0.2h-1zM650 746.6h1v3.6h-1zM650 753.6h1v0.2h-1zM669 757.4h1v5.8h-1zM678 750.2h1v6.9h-1zM685 750.1h1v1.3h-1zM694 748.3h1v2.7h-1zM701 751.0h1v8.9h-1zM717 759.9h1v1.7h-1zM729 753.2h1v13.9h-1zM729 775.4h1v2.3h-1zM730 753.2h1v13.9h-1zM730 775.4h1v2.3h-1zM733 721.1h1v46.6h-1zM745 707.7h1v1.4h-1zM745 722.2h1v1.1h-1zM746 707.7h1v1.4h-1zM746 722.2h1v1.1h-1zM758 697.2h1v16.6h-1zM761 676.1h1v0.9h-1zM761 697.4h1v4.0h-1zM762 676.1h1v0.9h-1zM762 697.4h1v4.0h-1zM781 690.0h1v8.9h-1zM806 699.2h1v8.2h-1zM829 729.2h1v7.4h-1zM857 728.8h1v0.5h-1zM857 745.4h1v6.7h-1zM858 728.8h1v0.5h-1zM858 745.4h1v6.7h-1zM870 726.3h1v6.4h-1zM886 721.0h1v13.9h-1zM889 710.1h1v5.6h-1zM889 721.6h1v20.3h-1zM890 710.1h1v5.6h-1zM890 721.6h1v20.3h-1zM902 726.3h1v2.5h-1zM918 716.3h1v21.9h-1zM921 703.8h1v7.8h-1zM921 716.8h1v3.1h-1zM922 703.8h1v7.8h-1zM922 716.8h1v3.1h-1zM925 655.0h1v56.6h-1zM937 646.9h1v4.2h-1zM937 660.8h1v9.2h-1zM938 646.9h1v4.2h-1zM938 660.8h1v9.2h-1zM953 671.6h1v1.2h-1zM953 674.1h1v19.4h-1zM954 671.6h1v1.2h-1zM954 674.1h1v19.4h-1zM957 644.2h1v29.6h-1zM969 643.1h1v1.9h-1zM969 648.9h1v3.1h-1zM970 643.1h1v1.9h-1zM970 648.9h1v3.1h-1zM989 697.9h1v12.0h-1zM998 693.8h1v4.1h-1zM1005 689.7h1v8.6h-1zM1014 674.9h1v15.0h-1zM1017 662.0h1v0.2h-1zM1017 675.5h1v8.0h-1zM1018 662.0h1v0.2h-1zM1018 675.5h1v8.0h-1zM1033 700.5h1v3.3h-1zM1033 711.9h1v6.7h-1zM1034 700.5h1v3.3h-1zM1034 711.9h1v6.7h-1zM1037 691.9h1v11.9h-1zM1049 674.2h1v22.9h-1zM1049 704.6h1v7.3h-1zM1050 674.2h1v22.9h-1zM1050 704.6h1v7.3h-1zM1062 699.0h1v7.6h-1zM1069 707.1h1v2.8h-1zM1081 715.2h1v1.9h-1zM1081 734.5h1v5.4h-1zM1082 715.2h1v1.9h-1zM1082 734.5h1v5.4h-1zM1085 701.2h1v16.7h-1zM1094 686.4h1v15.2h-1zM1101 706.3h1v1.6h-1zM1110 703.2h1v3.4h-1zM1113 682.7h1v0.3h-1zM1113 703.2h1v2.3h-1zM1114 682.7h1v0.3h-1zM1114 703.2h1v2.3h-1zM1117 659.7h1v23.6h-1zM1126 656.4h1v4.1h-1zM1133 648.0h1v9.5h-1zM1142 638.3h1v9.4h-1zM1161 669.4h1v0.5h-1zM1161 676.0h1v3.9h-1zM1162 669.4h1v0.5h-1zM1162 676.0h1v3.9h-1zM1177 660.5h1v1.1h-1zM1177 684.6h1v2.9h-1zM1178 660.5h1v1.1h-1zM1178 684.6h1v2.9h-1zM1190 667.2h1v3.3h-1zM1193 636.9h1v0.3h-1zM1193 663.8h1v0.6h-1zM1194 636.9h1v0.3h-1zM1194 663.8h1v0.6h-1zM1197 589.1h1v48.2h-1zM1206 545.0h1v44.9h-1zM1225 612.9h1v7.3h-1zM1225 652.4h1v0.2h-1zM1226 612.9h1v7.3h-1zM1226 652.4h1v0.2h-1zM1254 675.3h1v12.4h-1zM1257 559.6h1v48.6h-1zM1257 629.9h1v0.3h-1zM1258 559.6h1v48.6h-1zM1258 629.9h1v0.3h-1zM1261 594.4h1v14.7h-1zM1277 603.2h1v28.4h-1zM1289 599.1h1v6.9h-1zM1289 610.7h1v12.2h-1zM1290 599.1h1v6.9h-1zM1290 610.7h1v12.2h-1zM1293 591.8h1v14.0h-1zM1302 569.9h1v21.9h-1zM1305 510.8h1v1.6h-1zM1305 569.9h1v5.0h-1zM1306 510.8h1v1.6h-1zM1306 569.9h1v5.0h-1zM1309 477.5h1v34.9h-1zM1318 439.7h1v38.3h-1zM1321 393.2h1v4.2h-1zM1321 427.9h1v30.3h-1zM1322 393.2h1v4.2h-1zM1322 427.9h1v30.3h-1zM1325 386.6h1v10.8h-1zM1337 340.3h1v64.2h-1zM1337 421.2h1v3.7h-1zM1338 340.3h1v64.2h-1zM1338 421.2h1v3.7h-1zM1341 381.6h1v22.9h-1zM1350 359.1h1v22.5h-1zM1353 305.8h1v26.6h-1zM1353 361.2h1v11.7h-1zM1354 305.8h1v26.6h-1zM1354 361.2h1v11.7h-1zM1357 307.0h1v25.4h-1zM1385 336.9h1v50.5h-1zM1386 336.9h1v50.5h-1zM1398 377.9h1v19.5h-1zM1401 321.3h1v15.6h-1zM1401 378.2h1v15.3h-1zM1402 321.3h1v15.6h-1zM1402 378.2h1v15.3h-1zM1414 299.1h1v39.5h-1zM1417 49.7h1v81.1h-1zM1418 49.7h1v81.1h-1zM1421 128.3h1v3.3h-1zM1437 226.2h1v38.4h-1zM1446 216.5h1v10.3h-1zM1449 199.0h1v7.2h-1zM1449 211.9h1v59.7h-1zM1450 199.0h1v7.2h-1zM1450 211.9h1v59.7h-1zM1453 188.2h1v17.5h-1zM1462 179.1h1v8.8h-1zM1465 81.6h1v4.7h-1zM1465 179.1h1v28.3h-1zM1466 81.6h1v4.7h-1zM1466 179.1h1v28.3h-1zM1481 116.3h1v10.6h-1zM1481 148.6h1v5.5h-1zM1482 116.3h1v10.6h-1zM1482 148.6h1v5.5h-1zM1485 124.1h1v3.3h-1zM1510 389.1h1v19.5h-1zM1517 386.9h1v31.7h-1zM1526 338.3h1v48.3h-1zM1545 424.9h1v30.3h-1zM1545 459.5h1v22.3h-1zM1546 424.9h1v30.3h-1zM1546 459.5h1v22.3h-1zM1549 436.2h1v19.5h-1zM1558 395.8h1v39.9h-1zM1565 411.2h1v29.5h-1zM1574 405.7h1v5.9h-1zM1581 454.0h1v10.5h-1zM1606 526.3h1v2.8h-1zM1613 584.9h1v15.8h-1zM1629 615.7h1v21.7h-1zM1641 601.2h1v12.8h-1zM1641 639.0h1v0.9h-1zM1642 601.2h1v12.8h-1zM1642 639.0h1v0.9h-1zM1645 596.2h1v16.7h-1zM1673 608.5h1v13.4h-1zM1673 639.0h1v3.9h-1zM1674 608.5h1v13.4h-1zM1674 639.0h1v3.9h-1zM1677 611.5h1v10.4h-1zM1686 574.1h1v37.8h-1zM1689 513.0h1v14.9h-1zM1689 574.9h1v1.3h-1zM1690 513.0h1v14.9h-1zM1690 574.9h1v1.3h-1zM1693 508.0h1v19.9h-1zM1702 499.1h1v9.5h-1zM1705 464.0h1v5.7h-1zM1705 496.6h1v10.9h-1zM1706 464.0h1v5.7h-1zM1706 496.6h1v10.9h-1zM1725 486.9h1v23.8h-1zM1734 471.6h1v15.3h-1zM1737 430.0h1v5.8h-1zM1737 477.4h1v18.3h-1zM1738 430.0h1v5.8h-1zM1738 477.4h1v18.3h-1zM1741 429.0h1v7.2h-1zM1750 421.2h1v8.3h-1zM1753 387.4h1v5.5h-1zM1753 421.5h1v4.7h-1zM1754 387.4h1v5.5h-1zM1754 421.5h1v4.7h-1zM1757 385.7h1v7.2h-1zM1766 356.9h1v28.8h-1zM1769 322.4h1v0.5h-1zM1769 357.4h1v6.7h-1zM1770 322.4h1v0.5h-1zM1770 357.4h1v6.7h-1zM1773 320.3h1v3.3h-1zM1785 353.6h1v38.0h-1zM1785 407.4h1v0.8h-1zM1786 353.6h1v38.0h-1zM1786 407.4h1v0.8h-1zM1789 377.9h1v14.0h-1zM1801 374.6h1v1.1h-1zM1801 394.9h1v6.3h-1zM1802 374.6h1v1.1h-1zM1802 394.9h1v6.3h-1zM1805 368.2h1v8.0h-1zM1814 355.7h1v13.4h-1zM1817 299.6h1v12.9h-1zM1817 355.7h1v4.5h-1zM1818 299.6h1v12.9h-1zM1818 355.7h1v4.5h-1zM1821 311.2h1v1.3h-1zM1830 303.3h1v8.3h-1zM1833 265.0h1v10.8h-1zM1833 303.0h1v5.3h-1zM1834 265.0h1v10.8h-1zM1834 303.0h1v5.3h-1zM1853 319.1h1v7.5h-1zM1865 335.8h1v8.3h-1zM1865 347.9h1v18.3h-1zM1866 335.8h1v8.3h-1zM1866 347.9h1v18.3h-1zM1869 338.3h1v5.8h-1zM1885 330.3h1v44.3h-1zM1894 328.3h1v2.5h-1zM1917 441.3h1v19.5h-1zM1929 452.9h1v14.0h-1zM1930 452.9h1v14.0h-1zM1933 454.1h1v13.3h-1zM1942 441.3h1v12.8h-1zM1949 469.1h1v56.6h-1zM1958 458.3h1v11.3h-1zM1965 459.1h1v5.8h-1zM1974 442.5h1v17.1h-1zM1977 401.7h1v6.3h-1zM1977 443.0h1v6.6h-1zM1978 401.7h1v6.3h-1zM1978 443.0h1v6.6h-1zM1990 424.1h1v3.9h-1z"/>
<path fill="#00f" fill-opacity="0.61" d="M8 953.7h1v1.4h-1zM11 953.7h1v1.4h-1zM15 947.2h1v4.5h-1zM15 954.6h1v1.0h-1zM20 941.3h1v2.0h-1zM20 952.2h1v7.4h-1zM24 931.9h1v11.8h-1zM27 931.9h1v11.8h-1zM47 936.3h1v0.8h-1zM47 942.3h1v2.4h-1zM56 919.5h1v19.8h-1zM59 919.5h1v19.8h-1zM63 912.3h1v4.7h-1zM63 920.0h1v5.4h-1zM79 933.8h1v1.4h-1zM79 936.6h1v7.1h-1zM84 901.6h1v3.5h-1zM84 936.3h1v0.2h-1zM88 893.2h1v12.9h-1zM91 893.2h1v12.9h-1zM100 893.2h1v1.7h-1zM100 901.4h1v2.7h-1zM104 887.8h1v8.1h-1zM107 887.8h1v8.1h-1zM111 882.3h1v0.7h-1zM111 887.9h1v2.3h-1zM132 903.1h1v6.0h-1zM132 912.0h1v0.7h-1zM136 905.8h1v3.0h-1zM139 905.8h1v3.0h-1zM168 910.5h1v5.8h-1zM171 910.5h1v5.8h-1zM180 895.7h1v5.1h-1zM180 911.5h1v2.0h-1zM191 864.3h1v6.2h-1zM200 866.2h1v2.9h-1zM203 866.2h1v2.9h-1zM212 858.5h1v5.3h-1zM212 871.8h1v0.3h-1zM216 854.9h1v9.1h-1zM219 854.9h1v9.1h-1zM223 840.5h1v5.3h-1zM223 855.5h1v4.1h-1zM244 843.8h1v4.7h-1zM244 852.1h1v3.9h-1zM248 846.3h1v2.5h-1zM251 846.3h1v2.5h-1zM264 857.7h1v6.1h-1zM267 857.7h1v6.1h-1zM271 853.2h1v0.6h-1zM271 857.7h1v3.9h-1zM276 837.2h1v2.7h-1zM276 853.8h1v1.7h-1zM287 823.8h1v2.0h-1zM287 840.7h1v5.3h-1zM292 819.6h1v1.5h-1zM292 825.8h1v3.6h-1zM303 819.6h1v2.6h-1zM303 823.8h1v2.8h-1zM312 828.0h1v1.6h-1zM315 828.0h1v1.6h-1zM319 819.4h1v2.4h-1zM319 828.8h1v2.2h-1zM328 808.3h1v13.9h-1zM331 808.3h1v13.9h-1zM335 801.6h1v2.3h-1zM335 808.5h1v7.0h-1zM351 801.4h1v3.8h-1zM351 810.0h1v8.8h-1zM356 785.0h1v2.2h-1zM356 805.8h1v3.6h-1zM360 783.3h1v3.7h-1zM363 783.3h1v3.7h-1zM372 782.2h1v1.1h-1zM372 793.9h1v5.5h-1zM392 791.4h1v9.3h-1zM395 791.4h1v9.3h-1zM399 783.9h1v5.3h-1zM399 792.2h1v2.2h-1zM408 789.2h1v3.0h-1zM411 789.2h1v3.0h-1zM415 767.2h1v18.1h-1zM415 788.6h1v3.0h-1zM431 813.8h1v4.8h-1zM431 825.2h1v0.8h-1zM436 810.1h1v4.0h-1zM436 818.6h1v8.2h-1zM440 812.4h1v1.4h-1zM443 812.4h1v1.4h-1zM447 792.4h1v9.8h-1zM447 812.7h1v8.1h-1zM456 789.2h1v14.3h-1zM459 789.2h1v14.3h-1zM479 825.2h1v1.9h-1zM479 837.4h1v16.4h-1zM484 817.1h1v0.6h-1zM484 826.6h1v15.0h-1zM495 819.4h1v0.5h-1zM495 821.9h1v5.8h-1zM500 810.1h1v8.6h-1zM500 820.0h1v8.2h-1zM504 818.1h1v1.3h-1zM507 818.1h1v1.3h-1zM511 796.4h1v2.6h-1zM511 819.4h1v6.3h-1zM527 793.3h1v1.1h-1zM527 801.9h1v1.6h-1zM532 783.3h1v1.9h-1zM532 794.6h1v1.4h-1zM536 766.1h1v19.2h-1zM539 766.1h1v19.2h-1zM564 759.7h1v6.4h-1zM564 775.7h1v0.7h-1zM568 758.0h1v8.1h-1zM571 758.0h1v8.1h-1zM580 764.4h1v2.2h-1zM580 769.7h1v14.5h-1zM600 742.2h1v30.2h-1zM603 742.2h1v30.2h-1zM612 765.3h1v1.1h-1zM612 769.4h1v8.6h-1zM616 755.3h1v7.4h-1zM619 755.3h1v7.4h-1zM639 754.4h1v3.6h-1zM639 773.8h1v8.9h-1zM644 749.1h1v5.3h-1zM644 758.8h1v0.6h-1zM648 750.2h1v3.4h-1zM651 750.2h1v3.4h-1zM671 741.8h1v15.6h-1zM671 763.2h1v3.4h-1zM676 748.3h1v1.9h-1zM676 757.1h1v3.1h-1zM687 747.4h1v2.7h-1zM687 751.5h1v1.0h-1zM692 743.8h1v4.5h-1zM692 751.0h1v6.7h-1zM703 749.4h1v1.6h-1zM703 759.9h1v11.7h-1zM719 757.4h1v2.5h-1zM719 761.6h1v1.3h-1zM728 767.1h1v8.3h-1zM731 767.1h1v8.3h-1zM735 718.5h1v2.6h-1zM735 767.7h1v0.5h-1zM744 709.1h1v13.1h-1zM747 709.1h1v13.1h-1zM756 693.3h1v3.9h-1zM756 713.8h1v0.9h-1zM760 677.0h1v20.4h-1zM763 677.0h1v20.4h-1zM783 687.8h1v2.2h-1zM783 698.9h1v0.5h-1zM804 697.4h1v1.8h-1zM804 707.4h1v0.9h-1zM831 727.2h1v2.0h-1zM831 736.6h1v13.6h-1zM856 729.3h1v16.1h-1zM859 729.3h1v16.1h-1zM868 724.3h1v2.0h-1zM868 732.7h1v2.7h-1zM884 718.2h1v2.8h-1zM884 734.9h1v2.5h-1zM888 715.7h1v5.9h-1zM891 715.7h1v5.9h-1zM900 722.1h1v4.2h-1zM900 728.8h1v6.1h-1zM916 716.0h1v0.3h-1zM916 738.2h1v1.5h-1zM920 711.6h1v5.2h-1zM923 711.6h1v5.2h-1zM927 650.0h1v5.0h-1zM927 711.6h1v0.3h-1zM936 651.1h1v9.7h-1zM939 651.1h1v9.7h-1zM952 672.8h1v1.3h-1zM955 672.8h1v1.3h-1zM959 642.8h1v1.4h-1zM959 673.8h1v7.8h-1zM968 645.0h1v3.9h-1zM971 645.0h1v3.9h-1zM991 690.2h1v7.7h-1zM991 709.9h1v5.8h-1zM996 692.4h1v1.4h-1zM996 697.9h1v4.0h-1zM1007 689.0h1v0.7h-1zM1007 698.3h1v0.7h-1zM1012 673.8h1v1.1h-1zM1012 689.9h1v0.3h-1zM1016 662.2h1v13.3h-1zM1019 662.2h1v13.3h-1zM1032 703.8h1v8.1h-1zM1035 703.8h1v8.1h-1zM1039 674.9h1v17.0h-1zM1039 703.8h1v0.3h-1zM1048 697.1h1v7.5h-1zM1051 697.1h1v7.5h-1zM1060 695.3h1v3.7h-1zM1060 706.6h1v3.3h-1zM1071 702.4h1v4.7h-1zM1071 709.9h1v2.8h-1zM1080 717.1h1v17.4h-1zM1083 717.1h1v17.4h-1zM1087 682.2h1v19.0h-1zM1087 717.9h1v0.3h-1zM1092 684.1h1v2.3h-1zM1092 701.6h1v1.1h-1zM1103 699.0h1v7.3h-1zM1103 707.9h1v6.4h-1zM1108 693.5h1v9.7h-1zM1108 706.6h1v6.4h-1zM1112 683.0h1v20.2h-1zM1115 683.0h1v20.2h-1zM1119 659.1h1v0.6h-1zM1119 683.3h1v5.5h-1zM1124 653.5h1v2.9h-1zM1124 660.5h1v2.6h-1zM1135 645.0h1v3.0h-1zM1135 657.5h1v4.1h-1zM1140 622.2h1v16.1h-1zM1140 647.7h1v6.1h-1zM1160 669.9h1v6.1h-1zM1163 669.9h1v6.1h-1zM1176 661.6h1v23.0h-1zM1179 661.6h1v23.0h-1zM1188 664.9h1v2.3h-1zM1188 670.5h1v13.0h-1zM1192 637.2h1v26.6h-1zM1195 637.2h1v26.6h-1zM1199 583.8h1v5.3h-1zM1199 637.3h1v0.4h-1zM1204 531.4h1v13.6h-1zM1204 589.9h1v5.9h-1zM1224 620.2h1v32.2h-1zM1227 620.2h1v32.2h-1zM1252 666.4h1v8.9h-1zM1256 608.2h1v21.7h-1zM1259 608.2h1v21.7h-1zM1263 584.9h1v9.5h-1zM1263 609.1h1v0.5h-1zM1279 596.3h1v6.9h-1zM1279 631.6h1v4.9h-1zM1288 606.0h1v4.7h-1zM1291 606.0h1v4.7h-1zM1295 586.0h1v5.8h-1zM1295 605.8h1v2.2h-1zM1300 557.4h1v12.5h-1zM1300 591.8h1v4.5h-1zM1304 512.4h1v57.5h-1zM1307 512.4h1v57.5h-1zM1311 433.7h1v43.8h-1zM1311 512.4h1v18.3h-1zM1316 439.2h1v0.5h-1zM1316 478.0h1v26.9h-1zM1320 397.4h1v30.5h-1zM1323 397.4h1v30.5h-1zM1327 379.1h1v7.5h-1zM1327 397.4h1v20.0h-1zM1336 404.5h1v16.7h-1zM1339 404.5h1v16.7h-1zM1343 380.7h1v0.9h-1zM1343 404.5h1v56.3h-1zM1348 341.6h1v17.5h-1zM1348 381.6h1v1.6h-1zM1352 332.4h1v28.8h-1zM1355 332.4h1v28.8h-1zM1359 300.3h1v6.7h-1zM1359 332.4h1v0.5h-1zM1384 387.4h1v30.0h-1zM1387 387.4h1v30.0h-1zM1396 374.6h1v3.3h-1zM1396 397.4h1v32.1h-1zM1400 336.9h1v41.3h-1zM1403 336.9h1v41.3h-1zM1412 284.1h1v15.0h-1zM1416 130.8h1v61.6h-1zM1419 130.8h1v61.6h-1zM1423 112.9h1v15.4h-1zM1423 131.6h1v36.6h-1zM1439 191.5h1v34.7h-1zM1439 264.6h1v6.2h-1zM1444 215.7h1v0.8h-1zM1444 226.8h1v20.5h-1zM1448 206.2h1v5.7h-1zM1451 206.2h1v5.7h-1zM1455 169.6h1v18.6h-1zM1455 205.7h1v13.3h-1zM1460 169.6h1v9.5h-1zM1460 187.9h1v32.8h-1zM1464 86.3h1v92.8h-1zM1467 86.3h1v92.8h-1zM1480 126.9h1v21.7h-1zM1483 126.9h1v21.7h-1zM1487 113.6h1v10.5h-1zM1487 127.4h1v14.2h-1zM1508 377.4h1v11.7h-1zM1508 408.6h1v23.0h-1zM1519 368.3h1v18.6h-1zM1519 418.6h1v0.5h-1zM1524 321.6h1v16.7h-1zM1524 386.6h1v4.2h-1zM1544 455.2h1v4.3h-1zM1547 455.2h1v4.3h-1zM1551 435.2h1v1.0h-1zM1551 455.7h1v12.5h-1zM1556 387.4h1v8.4h-1zM1556 435.7h1v8.3h-1zM1567 386.9h1v24.3h-1zM1567 440.7h1v10.8h-1zM1572 397.9h1v7.8h-1zM1572 411.6h1v1.6h-1zM1583 443.2h1v10.8h-1zM1583 464.5h1v3.7h-1zM1604 505.3h1v21.0h-1zM1604 529.1h1v12.5h-1zM1615 569.9h1v15.0h-1zM1615 600.7h1v5.5h-1zM1631 586.2h1v29.5h-1zM1631 637.4h1v27.4h-1zM1640 614.0h1v25.0h-1zM1643 614.0h1v25.0h-1zM1647 594.9h1v1.3h-1zM1647 612.9h1v1.6h-1zM1672 621.9h1v17.1h-1zM1675 621.9h1v17.1h-1zM1679 609.0h1v2.5h-1zM1679 621.9h1v3.0h-1zM1684 569.1h1v5.0h-1zM1684 611.9h1v4.3h-1zM1688 527.9h1v47.0h-1zM1691 527.9h1v47.0h-1zM1695 498.0h1v10.0h-1zM1695 527.9h1v6.2h-1zM1700 488.3h1v10.8h-1zM1700 508.6h1v6.7h-1zM1704 469.7h1v26.9h-1zM1707 469.7h1v26.9h-1zM1727 475.8h1v11.1h-1zM1727 510.7h1v0.5h-1zM1732 466.9h1v4.7h-1zM1732 486.9h1v2.7h-1zM1736 435.8h1v41.6h-1zM1739 435.8h1v41.6h-1zM1743 423.2h1v5.8h-1zM1743 436.2h1v2.0h-1zM1748 401.5h1v19.7h-1zM1748 429.5h1v4.5h-1zM1752 392.9h1v28.6h-1zM1755 392.9h1v28.6h-1zM1759 373.6h1v12.1h-1zM1759 392.9h1v17.0h-1zM1764 353.6h1v3.3h-1zM1764 385.7h1v4.5h-1zM1768 322.9h1v34.5h-1zM1771 322.9h1v34.5h-1zM1775 316.9h1v3.4h-1zM1775 323.6h1v15.5h-1zM1784 391.6h1v15.8h-1zM1787 391.6h1v15.8h-1zM1791 359.1h1v18.8h-1zM1791 391.9h1v21.0h-1zM1800 375.7h1v19.2h-1zM1803 375.7h1v19.2h-1zM1807 351.6h1v16.6h-1zM1807 376.2h1v1.7h-1zM1812 350.3h1v5.4h-1zM1812 369.1h1v20.5h-1zM1816 312.5h1v43.2h-1zM1819 312.5h1v43.2h-1zM1823 284.1h1v27.1h-1zM1823 312.6h1v9.3h-1zM1828 286.3h1v17.0h-1zM1828 311.6h1v2.5h-1zM1832 275.8h1v27.2h-1zM1835 275.8h1v27.2h-1zM1855 299.1h1v20.0h-1zM1855 326.6h1v20.8h-1zM1864 344.1h1v3.8h-1zM1867 344.1h1v3.8h-1zM1871 329.6h1v8.7h-1zM1871 344.1h1v4.5h-1zM1887 309.1h1v21.2h-1zM1887 374.6h1v12.3h-1zM1892 307.5h1v20.8h-1zM1892 330.8h1v5.8h-1zM1919 404.7h1v36.6h-1zM1919 460.8h1v9.5h-1zM1928 466.9h1v20.5h-1zM1931 466.9h1v20.5h-1zM1935 449.6h1v4.5h-1zM1935 467.4h1v7.5h-1zM1940 418.3h1v23.0h-1zM1940 454.1h1v12.8h-1zM1951 461.9h1v7.2h-1zM1951 525.7h1v11.2h-1zM1956 455.8h1v2.5h-1zM1956 469.6h1v17.0h-1zM1967 458.3h1v0.8h-1zM1967 464.9h1v4.7h-1zM1972 425.8h1v16.7h-1zM1972 459.6h1v4.0h-1zM1976 408.0h1v35.0h-1zM1979 408.0h1v35.0h-1zM1988 414.1h1v10.0h-1zM1988 428.0h1v6.6h-1z"/>
<path fill="#00f" d="M5 952.2h1v4.9h-1zM9 953.7h1v1.4h-1zM10 953.7h1v1.4h-1zM14 951.7h1v2.9h-1zM15 951.7h1v2.9h-1zM16 951.7h1v2.9h-1zM19 943.3h1v8.9h-1zM20 943.3h1v8.9h-1zM21 943.3h1v8.9h-1zM25 931.9h1v11.8h-1zM26 931.9h1v11.8h-1zM46 937.1h1v5.2h-1zM47 937.1h1v5.2h-1zM48 937.1h1v5.2h-1zM57 919.5h1v19.8h-1zM58 919.5h1v19.8h-1zM62 917.0h1v3.0h-1zM63 917.0h1v3.0h-1zM64 917.0h1v3.0h-1zM78 935.2h1v1.3h-1zM79 935.2h1v1.3h-1zM80 935.2h1v1.3h-1zM83 905.1h1v31.2h-1zM84 905.1h1v31.2h-1zM85 905.1h1v31.2h-1zM89 893.2h1v12.9h-1zM90 893.2h1v12.9h-1zM99 894.9h1v6.5h-1zM100 894.9h1v6.5h-1zM101 894.9h1v6.5h-1zM105 887.8h1v8.1h-1zM106 887.8h1v8.1h-1zM110 883.0h1v4.9h-1zM111 883.0h1v4.9h-1zM112 883.0h1v4.9h-1zM131 909.1h1v2.9h-1zM132 909.1h1v2.9h-1zM133 909.1h1v2.9h-1zM137 905.8h1v3.0h-1zM138 905.8h1v3.0h-1zM169 910.5h1v5.8h-1zM170 910.5h1v5.8h-1zM179 900.8h1v10.7h-1zM180 900.8h1v10.7h-1zM181 900.8h1v10.7h-1zM190 870.5h1v35.2h-1zM191 870.5h1v35.2h-1zM192 870.5h1v35.2h-1zM201 866.2h1v2.9h-1zM202 866.2h1v2.9h-1zM211 863.8h1v8.0h-1zM212 863.8h1v8.0h-1zM213 863.8h1v8.0h-1zM217 854.9h1v9.1h-1zM218 854.9h1v9.1h-1zM222 845.8h1v9.7h-1zM223 845.8h1v9.7h-1zM224 845.8h1v9.7h-1zM243 848.5h1v3.6h-1zM244 848.5h1v3.6h-1zM245 848.5h1v3.6h-1zM249 846.3h1v2.5h-1zM250 846.3h1v2.5h-1zM265 857.7h1v6.1h-1zM266 857.7h1v6.1h-1zM270 853.8h1v3.9h-1zM271 853.8h1v3.9h-1zM272 853.8h1v3.9h-1zM275 839.9h1v13.9h-1zM276 839.9h1v13.9h-1zM277 839.9h1v13.9h-1zM286 825.8h1v14.9h-1zM287 825.8h1v14.9h-1zM288 825.8h1v14.9h-1zM291 821.1h1v4.7h-1zM292 821.1h1v4.7h-1zM293 821.1h1v4.7h-1zM302 822.2h1v1.6h-1zM303 822.2h1v1.6h-1zM304 822.2h1v1.6h-1zM313 828.0h1v1.6h-1zM314 828.0h1v1.6h-1zM318 821.8h1v7.0h-1zM319 821.8h1v7.0h-1zM320 821.8h1v7.0h-1zM323 821.1h1v1.6h-1zM324 821.1h1v1.6h-1zM325 821.1h1v1.6h-1zM329 808.3h1v13.9h-1zM330 808.3h1v13.9h-1zM334 803.9h1v4.6h-1zM335 803.9h1v4.6h-1zM336 803.9h1v4.6h-1zM350 805.2h1v4.8h-1zM351 805.2h1v4.8h-1zM352 805.2h1v4.8h-1zM355 787.2h1v18.6h-1zM356 787.2h1v18.6h-1zM357 787.2h1v18.6h-1zM361 783.3h1v3.7h-1zM362 783.3h1v3.7h-1zM371 783.3h1v10.6h-1zM372 783.3h1v10.6h-1zM373 783.3h1v10.6h-1zM393 791.4h1v9.3h-1zM394 791.4h1v9.3h-1zM398 789.2h1v3.0h-1zM399 789.2h1v3.0h-1zM400 789.2h1v3.0h-1zM409 789.2h1v3.0h-1zM410 789.2h1v3.0h-1zM414 785.3h1v3.3h-1zM415 785.3h1v3.3h-1zM416 785.3h1v3.3h-1zM430 818.6h1v6.6h-1zM431 818.6h1v6.6h-1zM432 818.6h1v6.6h-1zM435 814.1h1v4.5h-1zM436 814.1h1v4.5h-1zM437 814.1h1v4.5h-1zM441 812.4h1v1.4h-1zM442 812.4h1v1.4h-1zM446 802.2h1v10.5h-1zM447 802.2h1v10.5h-1zM448 802.2h1v10.5h-1zM457 789.2h1v14.3h-1zM458 789.2h1v14.3h-1zM478 827.1h1v10.3h-1zM479 827.1h1v10.3h-1zM480 827.1h1v10.3h-1zM483 817.7h1v8.9h-1zM484 817.7h1v8.9h-1zM485 817.7h1v8.9h-1zM494 819.9h1v2.0h-1zM495 819.9h1v2.0h-1zM496 819.9h1v2.0h-1zM499 818.7h1v1.3h-1zM500 818.7h1v1.3h-1zM501 818.7h1v1.3h-1zM505 818.1h1v1.3h-1zM506 818.1h1v1.3h-1zM510 799.0h1v20.4h-1zM511 799.0h1v20.4h-1zM512 799.0h1v20.4h-1zM526 794.4h1v7.5h-1zM527 794.4h1v7.5h-1zM528 794.4h1v7.5h-1zM531 785.2h1v9.4h-1zM532 785.2h1v9.4h-1zM533 785.2h1v9.4h-1zM537 766.1h1v19.2h-1zM538 766.1h1v19.2h-1zM563 766.1h1v9.6h-1zM564 766.1h1v9.6h-1zM565 766.1h1v9.6h-1zM569 758.0h1v8.1h-1zM570 758.0h1v8.1h-1zM579 766.6h1v3.1h-1zM580 766.6h1v3.1h-1zM581 766.6h1v3.1h-1zM601 742.2h1v30.2h-1zM602 742.2h1v30.2h-1zM611 766.4h1v3.0h-1zM612 766.4h1v3.0h-1zM613 766.4h1v3.0h-1zM617 755.3h1v7.4h-1zM618 755.3h1v7.4h-1zM638 758.0h1v15.8h-1zM639 758.0h1v15.8h-1zM640 758.0h1v15.8h-1zM643 754.4h1v4.4h-1zM644 754.4h1v4.4h-1zM645 754.4h1v4.4h-1zM649 750.2h1v3.4h-1zM650 750.2h1v3.4h-1zM670 757.4h1v5.8h-1zM671 757.4h1v5.8h-1zM672 757.4h1v5.8h-1zM675 750.2h1v6.9h-1zM676 750.2h1v6.9h-1zM677 750.2h1v6.9h-1zM686 750.1h1v1.3h-1zM687 750.1h1v1.3h-1zM688 750.1h1v1.3h-1zM691 748.3h1v2.7h-1zM692 748.3h1v2.7h-1zM693 748.3h1v2.7h-1zM702 751.0h1v8.9h-1zM703 751.0h1v8.9h-1zM704 751.0h1v8.9h-1zM718 759.9h1v1.7h-1zM719 759.9h1v1.7h-1zM720 759.9h1v1.7h-1zM729 767.1h1v8.3h-1zM730 767.1h1v8.3h-1zM734 721.1h1v46.6h-1zM735 721.1h1v46.6h-1zM736 721.1h1v46.6h-1zM745 709.1h1v13.1h-1zM746 709.1h1v13.1h-1zM755 697.2h1v16.6h-1zM756 697.2h1v16.6h-1zM757 697.2h1v16.6h-1zM761 677.0h1v20.4h-1zM762 677.0h1v20.4h-1zM782 690.0h1v8.9h-1zM783 690.0h1v8.9h-1zM784 690.0h1v8.9h-1zM803 699.2h1v8.2h-1zM804 699.2h1v8.2h-1zM805 699.2h1v8.2h-1zM830 729.2h1v7.4h-1zM831 729.2h1v7.4h-1zM832 729.2h1v7.4h-1zM857 729.3h1v16.1h-1zM858 729.3h1v16.1h-1zM867 726.3h1v6.4h-1zM868 726.3h1v6.4h-1zM869 726.3h1v6.4h-1zM883 721.0h1v13.9h-1zM884 721.0h1v13.9h-1zM885 721.0h1v13.9h-1zM889 715.7h1v5.9h-1zM890 715.7h1v5.9h-1zM899 726.3h1v2.5h-1zM900 726.3h1v2.5h-1zM901 726.3h1v2.5h-1zM915 716.3h1v21.9h-1zM916 716.3h1v21.9h-1zM917 716.3h1v21.9h-1zM921 711.6h1v5.2h-1zM922 711.6h1v5.2h-1zM926 655.0h1v56.6h-1zM927 655.0h1v56.6h-1zM928 655.0h1v56.6h-1zM937 651.1h1v9.7h-1zM938 651.1h1v9.7h-1zM953 672.8h1v1.3h-1zM954 672.8h1v1.3h-1zM958 644.2h1v29.6h-1zM959 644.2h1v29.6h-1zM960 644.2h1v29.6h-1zM969 645.0h1v3.9h-1zM970 645.0h1v3.9h-1zM990 697.9h1v12.0h-1zM991 697.9h1v12.0h-1zM992 697.9h1v12.0h-1zM995 693.8h1v4.1h-1zM996 693.8h1v4.1h-1zM997 693.8h1v4.1h-1zM1006 689.7h1v8.6h-1zM1007 689.7h1v8.6h-1zM1008 689.7h1v8.6h-1zM1011 674.9h1v15.0h-1zM1012 674.9h1v15.0h-1zM1013 674.9h1v15.0h-1zM1017 662.2h1v13.3h-1zM1018 662.2h1v13.3h-1zM1033 703.8h1v8.1h-1zM1034 703.8h1v8.1h-1zM1038 691.9h1v11.9h-1zM1039 691.9h1v11.9h-1zM1040 691.9h1v11.9h-1zM1049 697.1h1v7.5h-1zM1050 697.1h1v7.5h-1zM1059 699.0h1v7.6h-1zM1060 699.0h1v7.6h-1zM1061 699.0h1v7.6h-1zM1070 707.1h1v2.8h-1zM1071 707.1h1v2.8h-1zM1072 707.1h1v2.8h-1zM1081 717.1h1v17.4h-1zM1082 717.1h1v17.4h-1zM1086 701.2h1v16.7h-1zM1087 701.2h1v16.7h-1zM1088 701.2h1v16.7h-1zM1091 686.4h1v15.2h-1zM1092 686.4h1v15.2h-1zM1093 686.4h1v15.2h-1zM1102 706.3h1v1.6h-1zM1103 706.3h1v1.6h-1zM1104 706.3h1v1.6h-1zM1107 703.2h1v3.4h-1zM1108 703.2h1v3.4h-1zM1109 703.2h1v3.4h-1zM1113 683.0h1v20.2h-1zM1114 683.0h1v20.2h-1zM1118 659.7h1v23.6h-1zM1119 659.7h1v23.6h-1zM1120 659.7h1v23.6h-1zM1123 656.4h1v4.1h-1zM1124 656.4h1v4.1h-1zM1125 656.4h1v4.1h-1zM1134 648.0h1v9.5h-1zM1135 648.0h1v9.5h-1zM1136 648.0h1v9.5h-1zM1139 638.3h1v9.4h-1zM1140 638.3h1v9.4h-1zM1141 638.3h1v9.4h-1zM1161 669.9h1v6.1h-1zM1162 669.9h1v6.1h-1zM1177 661.6h1v23.0h-1zM1178 661.6h1v23.0h-1zM1187 667.2h1v3.3h-1zM1188 667.2h1v3.3h-1zM1189 667.2h1v3.3h-1zM1193 637.2h1v26.6h-1zM1194 637.2h1v26.6h-1zM1198 589.1h1v48.2h-1zM1199 589.1h1v48.2h-1zM1200 589.1h1v48.2h-1zM1203 545.0h1v44.9h-1zM1204 545.0h1v44.9h-1zM1205 545.0h1v44.9h-1zM1225 620.2h1v32.2h-1zM1226 620.2h1v32.2h-1zM1251 675.3h1v12.4h-1zM1252 675.3h1v12.4h-1zM1253 675.3h1v12.4h-1zM1257 608.2h1v21.7h-1zM1258 608.2h1v21.7h-1zM1262 594.4h1v14.7h-1zM1263 594.4h1v14.7h-1zM1264 594.4h1v14.7h-1zM1278 603.2h1v28.4h-1zM1279 603.2h1v28.4h-1zM1280 603.2h1v28.4h-1zM1289 606.0h1v4.7h-1zM1290 606.0h1v4.7h-1zM1294 591.8h1v14.0h-1zM1295 591.8h1v14.0h-1zM1296 591.8h1v14.0h-1zM1299 569.9h1v21.9h-1zM1300 569.9h1v21.9h-1zM1301 569.9h1v21.9h-1zM1305 512.4h1v57.5h-1zM1306 512.4h1v57.5h-1zM1310 477.5h1v34.9h-1zM1311 477.5h1v34.9h-1zM1312 477.5h1v34.9h-1zM1315 439.7h1v38.3h-1zM1316 439.7h1v38.3h-1zM1317 439.7h1v38.3h-1zM1321 397.4h1v30.5h-1zM1322 397.4h1v30.5h-1zM1326 386.6h1v10.8h-1zM1327 386.6h1v10.8h-1zM1328 386.6h1v10.8h-1zM1337 404.5h1v16.7h-1zM1338 404.5h1v16.7h-1zM1342 381.6h1v22.9h-1zM1343 381.6h1v22.9h-1zM1344 381.6h1v22.9h-1zM1347 359.1h1v22.5h-1zM1348 359.1h1v22.5h-1zM1349 359.1h1v22.5h-1zM1353 332.4h1v28.8h-1zM1354 332.4h1v28.8h-1zM1358 307.0h1v25.4h-1zM1359 307.0h1v25.4h-1zM1360 307.0h1v25.4h-1zM1385 387.4h1v30.0h-1zM1386 387.4h1v30.0h-1zM1395 377.9h1v19.5h-1zM1396 377.9h1v19.5h-1zM1397 377.9h1v19.5h-1zM1401 336.9h1v41.3h-1zM1402 336.9h1v41.3h-1zM1411 299.1h1v39.5h-1zM1412 299.1h1v39.5h-1zM1413 299.1h1v39.5h-1zM1417 130.8h1v61.6h-1zM1418 130.8h1v61.6h-1zM1422 128.3h1v3.3h-1zM1423 128.3h1v3.3h-1zM1424 128.3h1v3.3h-1zM1438 226.2h1v38.4h-1zM1439 226.2h1v38.4h-1zM1440 226.2h1v38.4h-1zM1443 216.5h1v10.3h-1zM1444 216.5h1v10.3h-1zM1445 216.5h1v10.3h-1zM1449 206.2h1v5.7h-1zM1450 206.2h1v5.7h-1zM1454 188.2h1v17.5h-1zM1455 188.2h1v17.5h-1zM1456 188.2h1v17.5h-1zM1459 179.1h1v8.8h-1zM1460 179.1h1v8.8h-1zM1461 179.1h1v8.8h-1zM1465 86.3h1v92.8h-1zM1466 86.3h1v92.8h-1zM1481 126.9h1v21.7h-1zM1482 126.9h1v21.7h-1zM1486 124.1h1v3.3h-1zM1487 124.1h1v3.3h-1zM1488 124.1h1v3.3h-1zM1507 389.1h1v19.5h-1zM1508 389.1h1v19.5h-1zM1509 389.1h1v19.5h-1zM1518 386.9h1v31.7h-1zM1519 386.9h1v31.7h-1zM1520 386.9h1v31.7h-1zM1523 338.3h1v48.3h-1zM1524 338.3h1v48.3h-1zM1525 338.3h1v48.3h-1zM1545 455.2h1v4.3h-1zM1546 455.2h1v4.3h-1zM1550 436.2h1v19.5h-1zM1551 436.2h1v19.5h-1zM1552 436.2h1v19.5h-1zM1555 395.8h1v39.9h-1zM1556 395.8h1v39.9h-1zM1557 395.8h1v39.9h-1zM1566 411.2h1v29.5h-1zM1567 411.2h1v29.5h-1zM1568 411.2h1v29.5h-1zM1571 405.7h1v5.9h-1zM1572 405.7h1v5.9h-1zM1573 405.7h1v5.9h-1zM1582 454.0h1v10.5h-1zM1583 454.0h1v10.5h-1zM1584 454.0h1v10.5h-1zM1603 526.3h1v2.8h-1zM1604 526.3h1v2.8h-1zM1605 526.3h1v2.8h-1zM1614 584.9h1v15.8h-1zM1615 584.9h1v15.8h-1zM1616 584.9h1v15.8h-1zM1630 615.7h1v21.7h-1zM1631 615.7h1v21.7h-1zM1632 615.7h1v21.7h-1zM1641 614.0h1v25.0h-1zM1642 614.0h1v25.0h-1zM1646 596.2h1v16.7h-1zM1647 596.2h1v16.7h-1zM1648 596.2h1v16.7h-1zM1673 621.9h1v17.1h-1zM1674 621.9h1v17.1h-1zM1678 611.5h1v10.4h-1zM1679 611.5h1v10.4h-1zM1680 611.5h1v10.4h-1zM1683 574.1h1v37.8h-1zM1684 574.1h1v37.8h-1zM1685 574.1h1v37.8h-1zM1689 527.9h1v47.0h-1zM1690 527.9h1v47.0h-1zM1694 508.0h1v19.9h-1zM1695 508.0h1v19.9h-1zM1696 508.0h1v19.9h-1zM1699 499.1h1v9.5h-1zM1700 499.1h1v9.5h-1zM1701 499.1h1v9.5h-1zM1705 469.7h1v26.9h-1zM1706 469.7h1v26.9h-1zM1726 486.9h1v23.8h-1zM1727 486.9h1v23.8h-1zM1728 486.9h1v23.8h-1zM1731 471.6h1v15.3h-1zM1732 471.6h1v15.3h-1zM1733 471.6h1v15.3h-1zM1737 435.8h1v41.6h-1zM1738 435.8h1v41.6h-1zM1742 429.0h1v7.2h-1zM1743 429.0h1v7.2h-1zM1744 429.0h1v7.2h-1zM1747 421.2h1v8.3h-1zM1748 421.2h1v8.3h-1zM1749 421.2h1v8.3h-1zM1753 392.9h1v28.6h-1zM1754 392.9h1v28.6h-1zM1758 385.7h1v7.2h-1zM1759 385.7h1v7.2h-1zM1760 385.7h1v7.2h-1zM1763 356.9h1v28.8h-1zM1764 356.9h1v28.8h-1zM1765 356.9h1v28.8h-1zM1769 322.9h1v34.5h-1zM1770 322.9h1v34.5h-1zM1774 320.3h1v3.3h-1zM1775 320.3h1v3.3h-1zM1776 320.3h1v3.3h-1zM1785 391.6h1v15.8h-1zM1786 391.6h1v15.8h-1zM1790 377.9h1v14.0h-1zM1791 377.9h1v14.0h-1zM1792 377.9h1v14.0h-1zM1801 375.7h1v19.2h-1zM1802 375.7h1v19.2h-1zM1806 368.2h1v8.0h-1zM1807 368.2h1v8.0h-1zM1808 368.2h1v8.0h-1zM1811 355.7h1v13.4h-1zM1812 355.7h1v13.4h-1zM1813 355.7h1v13.4h-1zM1817 312.5h1v43.2h-1zM1818 312.5h1v43.2h-1zM1822 311.2h1v1.3h-1zM1823 311.2h1v1.3h-1zM1824 311.2h1v1.3h-1zM1827 303.3h1v8.3h-1zM1828 303.3h1v8.3h-1zM1829 303.3h1v8.3h-1zM1833 275.8h1v27.2h-1zM1834 275.8h1v27.2h-1zM1854 319.1h1v7.5h-1zM1855 319.1h1v7.5h-1zM1856 319.1h1v7.5h-1zM1865 344.1h1v3.8h-1zM1866 344.1h1v3.8h-1zM1870 338.3h1v5.8h-1zM1871 338.3h1v5.8h-1zM1872 338.3h1v5.8h-1zM1886 330.3h1v44.3h-1zM1887 330.3h1v44.3h-1zM1888 330.3h1v44.3h-1zM1891 328.3h1v2.5h-1zM1892 328.3h1v2.5h-1zM1893 328.3h1v2.5h-1zM1918 441.3h1v19.5h-1zM1919 441.3h1v19.5h-1zM1920 441.3h1v19.5h-1zM1929 466.9h1v20.5h-1zM1930 466.9h1v20.5h-1zM1934 454.1h1v13.3h-1zM1935 454.1h1v13.3h-1zM1936 454.1h1v13.3h-1zM1939 441.3h1v12.8h-1zM1940 441.3h1v12.8h-1zM1941 441.3h1v12.8h-1zM1950 469.1h1v56.6h-1zM1951 469.1h1v56.6h-1zM1952 469.1h1v56.6h-1zM1955 458.3h1v11.3h-1zM1956 458.3h1v11.3h-1zM1957 458.3h1v11.3h-1zM1966 459.1h1v5.8h-1zM1967 459.1h1v5.8h-1zM1968 459.1h1v5.8h-1zM1971 442.5h1v17.1h-1zM1972 442.5h1v17.1h-1zM1973 442.5h1v17.1h-1zM1977 408.0h1v35.0h-1zM1978 408.0h1v35.0h-1zM1987 424.1h1v3.9h-1zM1988 424.1h1v3.9h-1zM1989 424.1h1v3.9h-1z"/>
<path fill="#f00" fill-opacity="0.06" d="M32 929.4h1v2.5h-1zM32 935.3h1v10.4h-1zM35 933.8h1v1.2h-1zM35 936.4h1v3.4h-1zM39 935.1h1v8.2h-1zM44 935.1h1v8.2h-1zM51 936.3h1v0.8h-1zM51 938.8h1v7.9h-1zM67 916.7h1v0.3h-1zM67 934.3h1v4.5h-1zM71 934.5h1v2.3h-1zM76 934.5h1v2.3h-1zM96 887.8h1v6.1h-1zM96 901.4h1v3.4h-1zM115 882.6h1v0.4h-1zM115 885.6h1v10.6h-1zM119 885.8h1v12.4h-1zM124 885.8h1v12.4h-1zM128 897.2h1v0.5h-1zM128 910.7h1v3.6h-1zM144 905.1h1v0.4h-1zM144 906.9h1v3.4h-1zM147 899.1h1v7.3h-1zM147 909.6h1v1.9h-1zM151 909.1h1v6.4h-1zM156 909.1h1v6.4h-1zM160 910.5h1v4.3h-1zM160 916.2h1v10.2h-1zM163 911.5h1v4.5h-1zM163 917.5h1v8.1h-1zM176 908.4h1v1.9h-1zM176 911.7h1v0.6h-1zM183 900.1h1v6.0h-1zM188 900.1h1v6.0h-1zM195 865.8h1v2.4h-1zM195 870.2h1v2.5h-1zM208 865.8h1v0.4h-1zM208 871.8h1v0.3h-1zM227 843.3h1v2.7h-1zM227 847.4h1v4.7h-1zM231 844.9h1v4.2h-1zM236 844.9h1v4.2h-1zM240 848.0h1v0.5h-1zM240 852.1h1v2.6h-1zM256 845.1h1v1.3h-1zM256 849.9h1v10.8h-1zM259 848.5h1v1.4h-1zM259 862.7h1v3.9h-1zM279 839.6h1v1.4h-1zM284 839.6h1v1.4h-1zM295 820.3h1v3.8h-1zM300 820.3h1v3.8h-1zM307 818.5h1v3.3h-1zM307 829.4h1v2.8h-1zM339 798.3h1v4.9h-1zM339 804.5h1v8.2h-1zM343 804.4h1v5.6h-1zM348 804.4h1v5.6h-1zM368 783.0h1v0.3h-1zM368 794.1h1v1.4h-1zM375 783.3h1v4.1h-1zM380 783.3h1v4.1h-1zM384 771.9h1v14.4h-1zM384 790.0h1v7.7h-1zM387 784.4h1v4.8h-1zM387 801.4h1v0.8h-1zM403 787.8h1v2.2h-1zM403 792.2h1v8.1h-1zM419 781.1h1v4.2h-1zM419 809.4h1v6.1h-1zM423 804.1h1v21.4h-1zM428 804.1h1v21.4h-1zM451 798.3h1v4.1h-1zM451 805.5h1v7.2h-1zM464 787.2h1v2.0h-1zM464 792.7h1v1.5h-1zM467 789.7h1v2.5h-1zM467 803.3h1v6.8h-1zM471 804.1h1v33.6h-1zM476 804.1h1v33.6h-1zM487 816.6h1v4.6h-1zM492 816.6h1v4.6h-1zM515 791.1h1v7.9h-1zM515 801.6h1v1.1h-1zM519 799.0h1v2.6h-1zM524 799.0h1v2.6h-1zM544 755.3h1v10.5h-1zM544 767.2h1v5.5h-1zM547 761.1h1v5.0h-1zM547 767.5h1v14.4h-1zM551 768.0h1v5.8h-1zM556 768.0h1v5.8h-1zM560 773.5h1v0.3h-1zM560 775.7h1v6.5h-1zM576 755.3h1v2.7h-1zM576 769.7h1v8.9h-1zM583 765.3h1v1.9h-1zM588 765.3h1v1.9h-1zM592 764.4h1v3.0h-1zM592 768.7h1v4.0h-1zM595 763.1h1v5.2h-1zM595 772.4h1v5.1h-1zM608 741.1h1v1.1h-1zM608 769.1h1v11.7h-1zM624 757.5h1v2.7h-1zM627 755.8h1v1.4h-1zM627 762.0h1v6.6h-1zM631 762.1h1v12.6h-1zM636 762.1h1v12.6h-1zM656 747.4h1v2.7h-1zM656 751.5h1v1.0h-1zM659 748.3h1v2.7h-1zM659 756.9h1v15.2h-1zM663 756.6h1v7.0h-1zM668 756.6h1v7.0h-1zM679 749.9h1v1.7h-1zM684 749.9h1v1.7h-1zM695 748.3h1v11.6h-1zM700 748.3h1v11.6h-1zM707 749.4h1v1.6h-1zM707 756.6h1v2.2h-1zM711 756.9h1v4.7h-1zM716 756.9h1v4.7h-1zM723 754.4h1v5.5h-1zM723 774.9h1v0.5h-1zM739 717.2h1v3.8h-1zM739 722.3h1v3.2h-1zM752 708.5h1v0.6h-1zM752 713.8h1v0.9h-1zM768 672.2h1v3.9h-1zM768 681.7h1v7.9h-1zM771 679.7h1v1.4h-1zM771 692.8h1v2.7h-1zM775 696.1h1v3.5h-1zM780 696.1h1v3.5h-1zM787 688.5h1v0.4h-1zM787 705.2h1v8.4h-1zM791 705.0h1v2.7h-1zM796 705.0h1v2.7h-1zM800 693.0h1v13.7h-1zM800 708.0h1v2.7h-1zM807 699.2h1v4.4h-1zM812 699.2h1v4.4h-1zM816 698.3h1v4.6h-1zM816 704.3h1v4.5h-1zM819 701.6h1v2.5h-1zM819 729.9h1v12.2h-1zM823 729.9h1v7.8h-1zM828 729.9h1v7.8h-1zM835 724.9h1v4.0h-1zM835 730.2h1v11.9h-1zM839 728.3h1v7.2h-1zM844 728.3h1v7.2h-1zM848 728.3h1v6.9h-1zM848 739.6h1v2.0h-1zM851 730.3h1v8.8h-1zM851 745.5h1v3.3h-1zM864 716.0h1v14.1h-1zM864 732.7h1v11.6h-1zM871 726.0h1v6.7h-1zM876 726.0h1v6.7h-1zM880 731.6h1v0.5h-1zM880 734.9h1v1.7h-1zM896 697.7h1v18.0h-1zM896 728.6h1v5.7h-1zM903 725.9h1v1.3h-1zM908 725.9h1v1.3h-1zM912 726.0h1v0.3h-1zM912 738.2h1v1.5h-1zM931 653.3h1v1.7h-1zM931 663.5h1v18.1h-1zM944 650.2h1v0.9h-1zM944 654.6h1v6.2h-1zM947 652.2h1v2.0h-1zM947 673.5h1v12.0h-1zM963 632.0h1v13.0h-1zM963 649.7h1v4.5h-1zM976 644.6h1v0.7h-1zM976 646.6h1v6.9h-1zM979 645.8h1v0.6h-1zM979 686.0h1v3.7h-1zM983 685.7h1v24.2h-1zM988 685.7h1v24.2h-1zM999 692.2h1v5.7h-1zM1004 692.2h1v5.7h-1zM1024 646.9h1v15.5h-1zM1024 666.1h1v1.4h-1zM1027 662.2h1v3.5h-1zM1027 716.8h1v12.0h-1zM1043 676.8h1v15.4h-1zM1043 703.8h1v3.7h-1zM1056 691.9h1v5.8h-1zM1056 706.6h1v8.3h-1zM1063 699.0h1v10.7h-1zM1068 699.0h1v10.7h-1zM1075 704.9h1v2.8h-1zM1075 735.4h1v7.2h-1zM1095 682.2h1v25.7h-1zM1100 682.2h1v25.7h-1zM1127 639.1h1v18.4h-1zM1132 639.1h1v18.4h-1zM1143 638.3h1v24.4h-1zM1148 638.3h1v24.4h-1zM1152 657.7h1v4.7h-1zM1152 670.5h1v13.9h-1zM1155 666.1h1v3.8h-1zM1155 677.2h1v9.6h-1zM1168 665.3h1v5.2h-1zM1168 676.0h1v2.3h-1zM1171 667.5h1v8.2h-1zM1171 683.8h1v10.6h-1zM1184 640.0h1v21.6h-1zM1184 670.5h1v7.2h-1zM1207 544.4h1v41.6h-1zM1212 544.4h1v41.6h-1zM1216 569.6h1v16.4h-1zM1216 639.3h1v10.6h-1zM1219 637.7h1v2.2h-1zM1219 656.7h1v24.8h-1zM1232 614.9h1v5.0h-1zM1232 629.9h1v10.0h-1zM1235 618.8h1v11.1h-1zM1235 659.9h1v9.4h-1zM1239 659.9h1v11.6h-1zM1244 659.9h1v11.6h-1zM1248 662.2h1v9.8h-1zM1248 687.5h1v18.0h-1zM1267 591.6h1v2.8h-1zM1267 618.0h1v10.2h-1zM1271 616.2h1v15.9h-1zM1276 616.2h1v15.9h-1zM1283 601.4h1v1.8h-1zM1283 613.6h1v8.5h-1zM1331 357.4h1v29.2h-1zM1331 420.7h1v5.0h-1zM1363 275.0h1v32.0h-1zM1363 333.3h1v6.6h-1zM1367 332.9h1v46.7h-1zM1372 332.9h1v46.7h-1zM1376 349.1h1v30.8h-1zM1376 390.7h1v8.8h-1zM1379 384.1h1v6.6h-1zM1379 415.7h1v9.2h-1zM1392 372.4h1v16.2h-1zM1392 397.4h1v18.8h-1zM1408 321.3h1v15.6h-1zM1408 339.1h1v40.5h-1zM1427 179.9h1v8.0h-1zM1431 179.1h1v85.5h-1zM1436 179.1h1v85.5h-1zM1472 69.1h1v17.2h-1zM1472 131.3h1v98.5h-1zM1475 123.3h1v8.0h-1zM1475 147.9h1v26.2h-1zM1491 119.6h1v4.5h-1zM1491 199.5h1v24.5h-1zM1495 199.0h1v58.5h-1zM1500 199.0h1v58.5h-1zM1504 234.0h1v23.5h-1zM1504 409.5h1v83.0h-1zM1511 376.9h1v41.7h-1zM1516 376.9h1v41.7h-1zM1527 338.0h1v40.6h-1zM1532 338.0h1v40.6h-1zM1536 369.1h1v9.2h-1zM1536 433.6h1v27.1h-1zM1539 427.4h1v6.2h-1zM1539 459.9h1v4.1h-1zM1559 395.8h1v44.9h-1zM1564 395.8h1v44.9h-1zM1575 402.4h1v62.5h-1zM1580 402.4h1v62.5h-1zM1587 447.4h1v6.6h-1zM1587 499.8h1v1.7h-1zM1591 499.6h1v21.2h-1zM1596 499.6h1v21.2h-1zM1600 506.3h1v13.7h-1zM1600 529.1h1v32.8h-1zM1607 522.5h1v78.2h-1zM1612 522.5h1v78.2h-1zM1619 579.9h1v5.8h-1zM1619 614.9h1v4.1h-1zM1623 614.5h1v22.9h-1zM1628 614.5h1v22.9h-1zM1635 605.2h1v10.5h-1zM1635 637.4h1v9.4h-1zM1651 566.2h1v29.0h-1zM1651 600.2h1v2.2h-1zM1655 599.9h1v5.0h-1zM1660 599.9h1v5.0h-1zM1664 592.4h1v12.2h-1zM1664 627.4h1v20.8h-1zM1667 619.9h1v7.0h-1zM1667 634.9h1v19.6h-1zM1712 459.0h1v10.7h-1zM1712 471.7h1v8.3h-1zM1715 456.9h1v14.4h-1zM1715 487.9h1v17.0h-1zM1719 486.9h1v23.0h-1zM1724 486.9h1v23.0h-1zM1779 317.4h1v2.9h-1zM1779 407.4h1v13.8h-1zM1795 365.7h1v13.4h-1zM1795 393.6h1v8.8h-1zM1840 266.3h1v8.7h-1zM1840 295.3h1v24.3h-1zM1843 280.0h1v15.0h-1zM1843 298.6h1v28.8h-1zM1847 298.3h1v27.5h-1zM1852 298.3h1v27.5h-1zM1859 316.3h1v2.8h-1zM1859 355.7h1v9.2h-1zM1875 330.8h1v8.3h-1zM1875 363.6h1v26.6h-1zM1879 363.2h1v10.9h-1zM1884 363.2h1v10.9h-1zM1895 341.3h1v29.4h-1zM1900 341.3h1v29.4h-1zM1904 361.6h1v8.6h-1zM1904 386.6h1v5.8h-1zM1907 380.7h1v5.9h-1zM1907 388.2h1v19.2h-1zM1911 388.0h1v72.8h-1zM1916 388.0h1v72.8h-1zM1923 435.8h1v5.5h-1zM1923 487.9h1v8.7h-1zM1943 441.3h1v84.4h-1zM1948 441.3h1v84.4h-1zM1959 462.4h1v2.5h-1zM1964 462.4h1v2.5h-1zM1984 403.7h1v2.9h-1zM1984 427.5h1v12.5h-1zM1991 423.3h1v70.8h-1zM1996 423.3h1v70.8h-1zM2000 491.2h1v2.9h-1zM2000 511.9h1v21.0h-1z"/>
<path fill="#f00" fill-opacity="0.19" d="M30 929.4h1v2.5h-1zM30 935.3h1v10.4h-1zM33 931.9h1v3.4h-1zM34 935.0h1v1.3h-1zM37 933.8h1v1.2h-1zM37 936.4h1v3.4h-1zM50 937.1h1v1.7h-1zM53 936.3h1v0.8h-1zM53 938.8h1v7.9h-1zM66 917.0h1v17.3h-1zM69 916.7h1v0.3h-1zM69 934.3h1v4.5h-1zM94 887.8h1v6.1h-1zM94 901.4h1v3.4h-1zM97 893.9h1v7.5h-1zM114 883.0h1v2.6h-1zM117 882.6h1v0.4h-1zM117 885.6h1v10.6h-1zM126 897.2h1v0.5h-1zM126 910.7h1v3.6h-1zM129 897.7h1v13.0h-1zM142 905.1h1v0.4h-1zM142 906.9h1v3.4h-1zM145 905.5h1v1.3h-1zM146 906.4h1v3.2h-1zM149 899.1h1v7.3h-1zM149 909.6h1v1.9h-1zM158 910.5h1v4.3h-1zM158 916.2h1v10.2h-1zM161 914.8h1v1.3h-1zM162 916.0h1v1.5h-1zM165 911.5h1v4.5h-1zM165 917.5h1v8.1h-1zM174 908.4h1v1.9h-1zM174 911.7h1v0.6h-1zM177 910.3h1v1.4h-1zM194 868.2h1v2.0h-1zM197 865.8h1v2.4h-1zM197 870.2h1v2.5h-1zM206 865.8h1v0.4h-1zM206 871.8h1v0.3h-1zM209 866.2h1v5.6h-1zM226 846.0h1v1.3h-1zM229 843.3h1v2.7h-1zM229 847.4h1v4.7h-1zM238 848.0h1v0.5h-1zM238 852.1h1v2.6h-1zM241 848.5h1v3.6h-1zM254 845.1h1v1.3h-1zM254 849.9h1v10.8h-1zM257 846.4h1v3.5h-1zM258 849.9h1v12.8h-1zM261 848.5h1v1.4h-1zM261 862.7h1v3.9h-1zM306 821.8h1v7.6h-1zM309 818.5h1v3.3h-1zM309 829.4h1v2.8h-1zM338 803.2h1v1.3h-1zM341 798.3h1v4.9h-1zM341 804.5h1v8.2h-1zM366 783.0h1v0.3h-1zM366 794.1h1v1.4h-1zM369 783.3h1v10.8h-1zM382 771.9h1v14.4h-1zM382 790.0h1v7.7h-1zM385 786.3h1v3.7h-1zM386 789.2h1v12.2h-1zM389 784.4h1v4.8h-1zM389 801.4h1v0.8h-1zM402 790.0h1v2.2h-1zM405 787.8h1v2.2h-1zM405 792.2h1v8.1h-1zM418 785.3h1v24.1h-1zM421 781.1h1v4.2h-1zM421 809.4h1v6.1h-1zM450 802.4h1v3.1h-1zM453 798.3h1v4.1h-1zM453 805.5h1v7.2h-1zM462 787.2h1v2.0h-1zM462 792.7h1v1.5h-1zM465 789.2h1v3.5h-1zM466 792.2h1v11.1h-1zM469 789.7h1v2.5h-1zM469 803.3h1v6.8h-1zM514 799.0h1v2.6h-1zM517 791.1h1v7.9h-1zM517 801.6h1v1.1h-1zM542 755.3h1v10.5h-1zM542 767.2h1v5.5h-1zM545 765.8h1v1.3h-1zM546 766.1h1v1.4h-1zM549 761.1h1v5.0h-1zM549 767.5h1v14.4h-1zM558 773.5h1v0.3h-1zM558 775.7h1v6.5h-1zM561 773.8h1v1.9h-1zM574 755.3h1v2.7h-1zM574 769.7h1v8.9h-1zM577 758.0h1v11.7h-1zM590 764.4h1v3.0h-1zM590 768.7h1v4.0h-1zM593 767.4h1v1.3h-1zM594 768.3h1v4.1h-1zM597 763.1h1v5.2h-1zM597 772.4h1v5.1h-1zM606 741.1h1v1.1h-1zM606 769.1h1v11.7h-1zM609 742.2h1v26.9h-1zM622 757.5h1v2.7h-1zM625 755.3h1v2.2h-1zM626 757.2h1v4.8h-1zM629 755.8h1v1.4h-1zM629 762.0h1v6.6h-1zM654 747.4h1v2.7h-1zM654 751.5h1v1.0h-1zM657 750.1h1v1.3h-1zM658 751.0h1v5.9h-1zM661 748.3h1v2.7h-1zM661 756.9h1v15.2h-1zM706 751.0h1v5.6h-1zM709 749.4h1v1.6h-1zM709 756.6h1v2.2h-1zM722 759.9h1v15.0h-1zM725 754.4h1v5.5h-1zM725 774.9h1v0.5h-1zM738 721.0h1v1.3h-1zM741 717.2h1v3.8h-1zM741 722.3h1v3.2h-1zM750 708.5h1v0.6h-1zM750 713.8h1v0.9h-1zM753 709.1h1v4.7h-1zM766 672.2h1v3.9h-1zM766 681.7h1v7.9h-1zM769 676.1h1v5.6h-1zM770 681.1h1v11.7h-1zM773 679.7h1v1.4h-1zM773 692.8h1v2.7h-1zM786 688.9h1v16.3h-1zM789 688.5h1v0.4h-1zM789 705.2h1v8.4h-1zM798 693.0h1v13.7h-1zM798 708.0h1v2.7h-1zM801 706.7h1v1.3h-1zM814 698.3h1v4.6h-1zM814 704.3h1v4.5h-1zM817 702.9h1v1.3h-1zM818 704.1h1v25.8h-1zM821 701.6h1v2.5h-1zM821 729.9h1v12.2h-1zM834 728.9h1v1.3h-1zM837 724.9h1v4.0h-1zM837 730.2h1v11.9h-1zM846 728.3h1v6.9h-1zM846 739.6h1v2.0h-1zM849 735.2h1v4.4h-1zM850 739.1h1v6.4h-1zM853 730.3h1v8.8h-1zM853 745.5h1v3.3h-1zM862 716.0h1v14.1h-1zM862 732.7h1v11.6h-1zM865 730.1h1v2.6h-1zM878 731.6h1v0.5h-1zM878 734.9h1v1.7h-1zM881 732.1h1v2.8h-1zM894 697.7h1v18.0h-1zM894 728.6h1v5.7h-1zM897 715.7h1v12.9h-1zM910 726.0h1v0.3h-1zM910 738.2h1v1.5h-1zM913 726.3h1v11.9h-1zM930 655.0h1v8.5h-1zM933 653.3h1v1.7h-1zM933 663.5h1v18.1h-1zM942 650.2h1v0.9h-1zM942 654.6h1v6.2h-1zM945 651.1h1v3.5h-1zM946 654.2h1v19.3h-1zM949 652.2h1v2.0h-1zM949 673.5h1v12.0h-1zM962 645.0h1v4.7h-1zM965 632.0h1v13.0h-1zM965 649.7h1v4.5h-1zM974 644.6h1v0.7h-1zM974 646.6h1v6.9h-1zM977 645.3h1v1.3h-1zM978 646.4h1v39.6h-1zM981 645.8h1v0.6h-1zM981 686.0h1v3.7h-1zM1022 646.9h1v15.5h-1zM1022 666.1h1v1.4h-1zM1025 662.4h1v3.7h-1zM1026 665.7h1v51.1h-1zM1029 662.2h1v3.5h-1zM1029 716.8h1v12.0h-1zM1042 692.2h1v11.6h-1zM1045 676.8h1v15.4h-1zM1045 703.8h1v3.7h-1zM1054 691.9h1v5.8h-1zM1054 706.6h1v8.3h-1zM1057 697.7h1v8.9h-1zM1074 707.7h1v27.7h-1zM1077 704.9h1v2.8h-1zM1077 735.4h1v7.2h-1zM1150 657.7h1v4.7h-1zM1150 670.5h1v13.9h-1zM1153 662.4h1v8.1h-1zM1154 669.9h1v7.3h-1zM1157 666.1h1v3.8h-1zM1157 677.2h1v9.6h-1zM1166 665.3h1v5.2h-1zM1166 676.0h1v2.3h-1zM1169 670.5h1v5.5h-1zM1170 675.7h1v8.1h-1zM1173 667.5h1v8.2h-1zM1173 683.8h1v10.6h-1zM1182 640.0h1v21.6h-1zM1182 670.5h1v7.2h-1zM1185 661.6h1v8.9h-1zM1214 569.6h1v16.4h-1zM1214 639.3h1v10.6h-1zM1217 586.0h1v53.3h-1zM1218 639.9h1v16.8h-1zM1221 637.7h1v2.2h-1zM1221 656.7h1v24.8h-1zM1230 614.9h1v5.0h-1zM1230 629.9h1v10.0h-1zM1233 619.9h1v10.0h-1zM1234 629.9h1v30.0h-1zM1237 618.8h1v11.1h-1zM1237 659.9h1v9.4h-1zM1246 662.2h1v9.8h-1zM1246 687.5h1v18.0h-1zM1249 672.0h1v15.5h-1zM1266 594.4h1v23.6h-1zM1269 591.6h1v2.8h-1zM1269 618.0h1v10.2h-1zM1282 603.2h1v10.4h-1zM1285 601.4h1v1.8h-1zM1285 613.6h1v8.5h-1zM1330 386.6h1v34.1h-1zM1333 357.4h1v29.2h-1zM1333 420.7h1v5.0h-1zM1362 307.0h1v26.3h-1zM1365 275.0h1v32.0h-1zM1365 333.3h1v6.6h-1zM1374 349.1h1v30.8h-1zM1374 390.7h1v8.8h-1zM1377 379.9h1v10.8h-1zM1378 390.7h1v25.0h-1zM1381 384.1h1v6.6h-1zM1381 415.7h1v9.2h-1zM1390 372.4h1v16.2h-1zM1390 397.4h1v18.8h-1zM1393 388.6h1v8.8h-1zM1406 321.3h1v15.6h-1zM1406 339.1h1v40.5h-1zM1409 336.9h1v2.2h-1zM1426 129.1h1v50.8h-1zM1429 179.9h1v8.0h-1zM1470 69.1h1v17.2h-1zM1470 131.3h1v98.5h-1zM1473 86.3h1v45.0h-1zM1474 131.3h1v16.6h-1zM1477 123.3h1v8.0h-1zM1477 147.9h1v26.2h-1zM1490 124.1h1v75.4h-1zM1493 119.6h1v4.5h-1zM1493 199.5h1v24.5h-1zM1502 234.0h1v23.5h-1zM1502 409.5h1v83.0h-1zM1505 257.5h1v152.0h-1zM1534 369.1h1v9.2h-1zM1534 433.6h1v27.1h-1zM1537 378.3h1v55.3h-1zM1538 433.6h1v26.3h-1zM1541 427.4h1v6.2h-1zM1541 459.9h1v4.1h-1zM1586 454.0h1v45.8h-1zM1589 447.4h1v6.6h-1zM1589 499.8h1v1.7h-1zM1598 506.3h1v13.7h-1zM1598 529.1h1v32.8h-1zM1601 520.0h1v9.1h-1zM1618 585.7h1v29.2h-1zM1621 579.9h1v5.8h-1zM1621 614.9h1v4.1h-1zM1634 615.7h1v21.7h-1zM1637 605.2h1v10.5h-1zM1637 637.4h1v9.4h-1zM1650 595.2h1v5.0h-1zM1653 566.2h1v29.0h-1zM1653 600.2h1v2.2h-1zM1662 592.4h1v12.2h-1zM1662 627.4h1v20.8h-1zM1665 604.6h1v22.8h-1zM1666 626.9h1v8.0h-1zM1669 619.9h1v7.0h-1zM1669 634.9h1v19.6h-1zM1710 459.0h1v10.7h-1zM1710 471.7h1v8.3h-1zM1713 469.7h1v2.0h-1zM1714 471.3h1v16.6h-1zM1717 456.9h1v14.4h-1zM1717 487.9h1v17.0h-1zM1778 320.3h1v87.1h-1zM1781 317.4h1v2.9h-1zM1781 407.4h1v13.8h-1zM1794 379.1h1v14.5h-1zM1797 365.7h1v13.4h-1zM1797 393.6h1v8.8h-1zM1838 266.3h1v8.7h-1zM1838 295.3h1v24.3h-1zM1841 275.0h1v20.3h-1zM1842 295.0h1v3.6h-1zM1845 280.0h1v15.0h-1zM1845 298.6h1v28.8h-1zM1858 319.1h1v36.6h-1zM1861 316.3h1v2.8h-1zM1861 355.7h1v9.2h-1zM1874 339.1h1v24.5h-1zM1877 330.8h1v8.3h-1zM1877 363.6h1v26.6h-1zM1902 361.6h1v8.6h-1zM1902 386.6h1v5.8h-1zM1905 370.2h1v16.4h-1zM1906 386.6h1v1.6h-1zM1909 380.7h1v5.9h-1zM1909 388.2h1v19.2h-1zM1922 441.3h1v46.6h-1zM1925 435.8h1v5.5h-1zM1925 487.9h1v8.7h-1zM1982 403.7h1v2.9h-1zM1982 427.5h1v12.5h-1zM1985 406.6h1v20.9h-1zM1998 491.2h1v2.9h-1zM1998 511.9h1v21.0h-1zM2001 494.1h1v17.8h-1z"/>
<path fill="#f00" fill-opacity="0.36" d="M29 931.9h1v3.4h-1zM38 935.0h1v1.3h-1zM41 933.8h1v1.3h-1zM41 943.3h1v0.4h-1zM42 933.8h1v1.3h-1zM42 943.3h1v0.4h-1zM54 937.1h1v1.7h-1zM70 917.0h1v17.3h-1zM73 929.9h1v4.6h-1zM73 936.8h1v3.3h-1zM74 929.9h1v4.6h-1zM74 936.8h1v3.3h-1zM93 893.9h1v7.5h-1zM118 883.0h1v2.6h-1zM121 883.3h1v2.5h-1zM121 898.2h1v7.9h-1zM122 883.3h1v2.5h-1zM122 898.2h1v7.9h-1zM125 897.7h1v13.0h-1zM141 905.5h1v1.3h-1zM150 906.4h1v3.2h-1zM153 906.1h1v3.0h-1zM153 915.5h1v5.5h-1zM154 906.1h1v3.0h-1zM154 915.5h1v5.5h-1zM157 914.8h1v1.3h-1zM166 916.0h1v1.5h-1zM173 910.3h1v1.4h-1zM185 888.2h1v11.9h-1zM185 906.1h1v3.5h-1zM186 888.2h1v11.9h-1zM186 906.1h1v3.5h-1zM198 868.2h1v2.0h-1zM205 866.2h1v5.6h-1zM230 846.0h1v1.3h-1zM233 843.0h1v1.9h-1zM233 849.1h1v1.6h-1zM234 843.0h1v1.9h-1zM234 849.1h1v1.6h-1zM237 848.5h1v3.6h-1zM253 846.4h1v3.5h-1zM262 849.9h1v12.8h-1zM281 836.6h1v3.0h-1zM281 841.0h1v18.9h-1zM282 836.6h1v3.0h-1zM282 841.0h1v18.9h-1zM297 815.2h1v5.1h-1zM297 824.1h1v2.5h-1zM298 815.2h1v5.1h-1zM298 824.1h1v2.5h-1zM310 821.8h1v7.6h-1zM342 803.2h1v1.3h-1zM345 800.5h1v3.9h-1zM345 810.0h1v7.2h-1zM346 800.5h1v3.9h-1zM346 810.0h1v7.2h-1zM365 783.3h1v10.8h-1zM377 783.0h1v0.3h-1zM377 787.4h1v10.9h-1zM378 783.0h1v0.3h-1zM378 787.4h1v10.9h-1zM381 786.3h1v3.7h-1zM390 789.2h1v12.2h-1zM406 790.0h1v2.2h-1zM422 785.3h1v24.1h-1zM425 803.8h1v0.3h-1zM425 825.5h1v12.2h-1zM426 803.8h1v0.3h-1zM426 825.5h1v12.2h-1zM454 802.4h1v3.1h-1zM461 789.2h1v3.5h-1zM470 792.2h1v11.1h-1zM473 794.4h1v9.7h-1zM473 837.7h1v0.2h-1zM474 794.4h1v9.7h-1zM474 837.7h1v0.2h-1zM489 815.2h1v1.4h-1zM489 821.2h1v7.6h-1zM490 815.2h1v1.4h-1zM490 821.2h1v7.6h-1zM518 799.0h1v2.6h-1zM521 795.3h1v3.7h-1zM521 801.6h1v0.6h-1zM522 795.3h1v3.7h-1zM522 801.6h1v0.6h-1zM541 765.8h1v1.3h-1zM550 766.1h1v1.4h-1zM553 763.9h1v4.1h-1zM553 773.8h1v4.8h-1zM554 763.9h1v4.1h-1zM554 773.8h1v4.8h-1zM557 773.8h1v1.9h-1zM573 758.0h1v11.7h-1zM585 762.0h1v3.3h-1zM585 767.2h1v7.4h-1zM586 762.0h1v3.3h-1zM586 767.2h1v7.4h-1zM589 767.4h1v1.3h-1zM598 768.3h1v4.1h-1zM605 742.2h1v26.9h-1zM621 755.3h1v2.2h-1zM630 757.2h1v4.8h-1zM633 760.5h1v1.6h-1zM633 774.7h1v3.5h-1zM634 760.5h1v1.6h-1zM634 774.7h1v3.5h-1zM653 750.1h1v1.3h-1zM662 751.0h1v5.9h-1zM665 750.5h1v6.1h-1zM665 763.6h1v16.3h-1zM666 750.5h1v6.1h-1zM666 763.6h1v16.3h-1zM681 744.4h1v5.5h-1zM681 751.6h1v1.1h-1zM682 744.4h1v5.5h-1zM682 751.6h1v1.1h-1zM697 728.3h1v20.0h-1zM697 759.9h1v0.3h-1zM698 728.3h1v20.0h-1zM698 759.9h1v0.3h-1zM710 751.0h1v5.6h-1zM713 756.6h1v0.3h-1zM713 761.6h1v2.2h-1zM714 756.6h1v0.3h-1zM714 761.6h1v2.2h-1zM726 759.9h1v15.0h-1zM742 721.0h1v1.3h-1zM749 709.1h1v4.7h-1zM765 676.1h1v5.6h-1zM774 681.1h1v11.7h-1zM777 680.3h1v15.8h-1zM777 699.6h1v4.0h-1zM778 680.3h1v15.8h-1zM778 699.6h1v4.0h-1zM790 688.9h1v16.3h-1zM793 686.1h1v18.9h-1zM793 707.7h1v1.9h-1zM794 686.1h1v18.9h-1zM794 707.7h1v1.9h-1zM797 706.7h1v1.3h-1zM809 698.9h1v0.3h-1zM809 703.6h1v6.9h-1zM810 698.9h1v0.3h-1zM810 703.6h1v6.9h-1zM813 702.9h1v1.3h-1zM822 704.1h1v25.8h-1zM825 720.3h1v9.6h-1zM825 737.7h1v1.7h-1zM826 720.3h1v9.6h-1zM826 737.7h1v1.7h-1zM838 728.9h1v1.3h-1zM841 728.0h1v0.3h-1zM841 735.5h1v0.5h-1zM842 728.0h1v0.3h-1zM842 735.5h1v0.5h-1zM845 735.2h1v4.4h-1zM854 739.1h1v6.4h-1zM861 730.1h1v2.6h-1zM873 723.8h1v2.2h-1zM873 732.7h1v3.3h-1zM874 723.8h1v2.2h-1zM874 732.7h1v3.3h-1zM877 732.1h1v2.8h-1zM893 715.7h1v12.9h-1zM905 724.1h1v1.8h-1zM905 727.2h1v8.5h-1zM906 724.1h1v1.8h-1zM906 727.2h1v8.5h-1zM909 726.3h1v11.9h-1zM934 655.0h1v8.5h-1zM941 651.1h1v3.5h-1zM950 654.2h1v19.3h-1zM966 645.0h1v4.7h-1zM973 645.3h1v1.3h-1zM982 646.4h1v39.6h-1zM985 675.3h1v10.4h-1zM985 709.9h1v7.8h-1zM986 675.3h1v10.4h-1zM986 709.9h1v7.8h-1zM1001 687.7h1v4.5h-1zM1001 697.9h1v5.6h-1zM1002 687.7h1v4.5h-1zM1002 697.9h1v5.6h-1zM1021 662.4h1v3.7h-1zM1030 665.7h1v51.1h-1zM1046 692.2h1v11.6h-1zM1053 697.7h1v8.9h-1zM1065 697.5h1v1.5h-1zM1065 709.7h1v5.8h-1zM1066 697.5h1v1.5h-1zM1066 709.7h1v5.8h-1zM1078 707.7h1v27.7h-1zM1097 673.8h1v8.4h-1zM1097 707.9h1v10.9h-1zM1098 673.8h1v8.4h-1zM1098 707.9h1v10.9h-1zM1129 637.8h1v1.3h-1zM1129 657.5h1v10.2h-1zM1130 637.8h1v1.3h-1zM1130 657.5h1v10.2h-1zM1145 635.8h1v2.5h-1zM1145 662.7h1v4.1h-1zM1146 635.8h1v2.5h-1zM1146 662.7h1v4.1h-1zM1149 662.4h1v8.1h-1zM1158 669.9h1v7.3h-1zM1165 670.5h1v5.5h-1zM1174 675.7h1v8.1h-1zM1181 661.6h1v8.9h-1zM1209 540.3h1v4.1h-1zM1209 586.0h1v6.7h-1zM1210 540.3h1v4.1h-1zM1210 586.0h1v6.7h-1zM1213 586.0h1v53.3h-1zM1222 639.9h1v16.8h-1zM1229 619.9h1v10.0h-1zM1238 629.9h1v30.0h-1zM1241 644.3h1v15.6h-1zM1241 671.5h1v11.7h-1zM1242 644.3h1v15.6h-1zM1242 671.5h1v11.7h-1zM1245 672.0h1v15.5h-1zM1270 594.4h1v23.6h-1zM1273 607.1h1v9.1h-1zM1273 632.1h1v0.6h-1zM1274 607.1h1v9.1h-1zM1274 632.1h1v0.6h-1zM1286 603.2h1v10.4h-1zM1334 386.6h1v34.1h-1zM1366 307.0h1v26.3h-1zM1369 301.3h1v31.6h-1zM1369 379.6h1v61.9h-1zM1370 301.3h1v31.6h-1zM1370 379.6h1v61.9h-1zM1373 379.9h1v10.8h-1zM1382 390.7h1v25.0h-1zM1389 388.6h1v8.8h-1zM1405 336.9h1v2.2h-1zM1430 129.1h1v50.8h-1zM1433 158.2h1v20.9h-1zM1433 264.6h1v31.2h-1zM1434 158.2h1v20.9h-1zM1434 264.6h1v31.2h-1zM1469 86.3h1v45.0h-1zM1478 131.3h1v16.6h-1zM1494 124.1h1v75.4h-1zM1497 194.0h1v5.0h-1zM1497 257.5h1v40.5h-1zM1498 194.0h1v5.0h-1zM1498 257.5h1v40.5h-1zM1501 257.5h1v152.0h-1zM1513 366.3h1v10.6h-1zM1513 418.6h1v21.0h-1zM1514 366.3h1v10.6h-1zM1514 418.6h1v21.0h-1zM1529 310.8h1v27.2h-1zM1529 378.6h1v13.3h-1zM1530 310.8h1v27.2h-1zM1530 378.6h1v13.3h-1zM1533 378.3h1v55.3h-1zM1542 433.6h1v26.3h-1zM1561 389.1h1v6.7h-1zM1561 440.7h1v35.0h-1zM1562 389.1h1v6.7h-1zM1562 440.7h1v35.0h-1zM1577 401.2h1v1.2h-1zM1577 464.9h1v15.0h-1zM1578 401.2h1v1.2h-1zM1578 464.9h1v15.0h-1zM1590 454.0h1v45.8h-1zM1593 470.8h1v28.8h-1zM1593 520.8h1v10.5h-1zM1594 470.8h1v28.8h-1zM1594 520.8h1v10.5h-1zM1597 520.0h1v9.1h-1zM1609 517.0h1v5.5h-1zM1609 600.7h1v12.5h-1zM1610 517.0h1v5.5h-1zM1610 600.7h1v12.5h-1zM1622 585.7h1v29.2h-1zM1625 601.9h1v12.6h-1zM1625 637.4h1v28.3h-1zM1626 601.9h1v12.6h-1zM1626 637.4h1v28.3h-1zM1638 615.7h1v21.7h-1zM1654 595.2h1v5.0h-1zM1657 576.2h1v23.7h-1zM1657 604.9h1v35.3h-1zM1658 576.2h1v23.7h-1zM1658 604.9h1v35.3h-1zM1661 604.6h1v22.8h-1zM1670 626.9h1v8.0h-1zM1709 469.7h1v2.0h-1zM1718 471.3h1v16.6h-1zM1721 479.9h1v7.0h-1zM1721 509.9h1v8.3h-1zM1722 479.9h1v7.0h-1zM1722 509.9h1v8.3h-1zM1782 320.3h1v87.1h-1zM1798 379.1h1v14.5h-1zM1837 275.0h1v20.3h-1zM1846 295.0h1v3.6h-1zM1849 283.6h1v14.7h-1zM1849 325.8h1v7.1h-1zM1850 283.6h1v14.7h-1zM1850 325.8h1v7.1h-1zM1862 319.1h1v36.6h-1zM1878 339.1h1v24.5h-1zM1881 344.6h1v18.6h-1zM1881 374.1h1v24.1h-1zM1882 344.6h1v18.6h-1zM1882 374.1h1v24.1h-1zM1897 340.8h1v0.5h-1zM1897 370.7h1v19.2h-1zM1898 340.8h1v0.5h-1zM1898 370.7h1v19.2h-1zM1901 370.2h1v16.4h-1zM1910 386.6h1v1.6h-1zM1913 380.7h1v7.3h-1zM1913 460.8h1v5.0h-1zM1914 380.7h1v7.3h-1zM1914 460.8h1v5.0h-1zM1926 441.3h1v46.6h-1zM1945 416.3h1v25.0h-1zM1945 525.7h1v42.1h-1zM1946 416.3h1v25.0h-1zM1946 525.7h1v42.1h-1zM1961 435.0h1v27.4h-1zM1961 464.9h1v5.9h-1zM1962 435.0h1v27.4h-1zM1962 464.9h1v5.9h-1zM1981 406.6h1v20.9h-1zM1993 418.3h1v5.0h-1zM1993 494.1h1v22.1h-1zM1994 418.3h1v5.0h-1zM1994 494.1h1v22.1h-1zM1997 494.1h1v17.8h-1z"/>
<path fill="#f00" fill-opacity="0.61" d="M31 929.4h1v2.5h-1zM31 935.3h1v10.4h-1zM36 933.8h1v1.2h-1zM36 936.4h1v3.4h-1zM40 935.1h1v8.2h-1zM43 935.1h1v8.2h-1zM52 936.3h1v0.8h-1zM52 938.8h1v7.9h-1zM68 916.7h1v0.3h-1zM68 934.3h1v4.5h-1zM72 934.5h1v2.3h-1zM75 934.5h1v2.3h-1zM95 887.8h1v6.1h-1zM95 901.4h1v3.4h-1zM116 882.6h1v0.4h-1zM116 885.6h1v10.6h-1zM120 885.8h1v12.4h-1zM123 885.8h1v12.4h-1zM127 897.2h1v0.5h-1zM127 910.7h1v3.6h-1zM143 905.1h1v0.4h-1zM143 906.9h1v3.4h-1zM148 899.1h1v7.3h-1zM148 909.6h1v1.9h-1zM152 909.1h1v6.4h-1zM155 909.1h1v6.4h-1zM159 910.5h1v4.3h-1zM159 916.2h1v10.2h-1zM164 911.5h1v4.5h-1zM164 917.5h1v8.1h-1zM175 908.4h1v1.9h-1zM175 911.7h1v0.6h-1zM184 900.1h1v6.0h-1zM187 900.1h1v6.0h-1zM196 865.8h1v2.4h-1zM196 870.2h1v2.5h-1zM207 865.8h1v0.4h-1zM207 871.8h1v0.3h-1zM228 843.3h1v2.7h-1zM228 847.4h1v4.7h-1zM232 844.9h1v4.2h-1zM235 844.9h1v4.2h-1zM239 848.0h1v0.5h-1zM239 852.1h1v2.6h-1zM255 845.1h1v1.3h-1zM255 849.9h1v10.8h-1zM260 848.5h1v1.4h-1zM260 862.7h1v3.9h-1zM280 839.6h1v1.4h-1zM283 839.6h1v1.4h-1zM296 820.3h1v3.8h-1zM299 820.3h1v3.8h-1zM308 818.5h1v3.3h-1zM308 829.4h1v2.8h-1zM340 798.3h1v4.9h-1zM340 804.5h1v8.2h-1zM344 804.4h1v5.6h-1zM347 804.4h1v5.6h-1zM367 783.0h1v0.3h-1zM367 794.1h1v1.4h-1zM376 783.3h1v4.1h-1zM379 783.3h1v4.1h-1zM383 771.9h1v14.4h-1zM383 790.0h1v7.7h-1zM388 784.4h1v4.8h-1zM388 801.4h1v0.8h-1zM404 787.8h1v2.2h-1zM404 792.2h1v8.1h-1zM420 781.1h1v4.2h-1zM420 809.4h1v6.1h-1zM424 804.1h1v21.4h-1zM427 804.1h1v21.4h-1zM452 798.3h1v4.1h-1zM452 805.5h1v7.2h-1zM463 787.2h1v2.0h-1zM463 792.7h1v1.5h-1zM468 789.7h1v2.5h-1zM468 803.3h1v6.8h-1zM472 804.1h1v33.6h-1zM475 804.1h1v33.6h-1zM488 816.6h1v4.6h-1zM491 816.6h1v4.6h-1zM516 791.1h1v7.9h-1zM516 801.6h1v1.1h-1zM520 799.0h1v2.6h-1zM523 799.0h1v2.6h-1zM543 755.3h1v10.5h-1zM543 767.2h1v5.5h-1zM548 761.1h1v5.0h-1zM548 767.5h1v14.4h-1zM552 768.0h1v5.8h-1zM555 768.0h1v5.8h-1zM559 773.5h1v0.3h-1zM559 775.7h1v6.5h-1zM575 755.3h1v2.7h-1zM575 769.7h1v8.9h-1zM584 765.3h1v1.9h-1zM587 765.3h1v1.9h-1zM591 764.4h1v3.0h-1zM591 768.7h1v4.0h-1zM596 763.1h1v5.2h-1zM596 772.4h1v5.1h-1zM607 741.1h1v1.1h-1zM607 769.1h1v11.7h-1zM623 757.5h1v2.7h-1zM628 755.8h1v1.4h-1zM628 762.0h1v6.6h-1zM632 762.1h1v12.6h-1zM635 762.1h1v12.6h-1zM655 747.4h1v2.7h-1zM655 751.5h1v1.0h-1zM660 748.3h1v2.7h-1zM660 756.9h1v15.2h-1zM664 756.6h1v7.0h-1zM667 756.6h1v7.0h-1zM680 749.9h1v1.7h-1zM683 749.9h1v1.7h-1zM696 748.3h1v11.6h-1zM699 748.3h1v11.6h-1zM708 749.4h1v1.6h-1zM708 756.6h1v2.2h-1zM712 756.9h1v4.7h-1zM715 756.9h1v4.7h-1zM724 754.4h1v5.5h-1zM724 774.9h1v0.5h-1zM740 717.2h1v3.8h-1zM740 722.3h1v3.2h-1zM751 708.5h1v0.6h-1zM751 713.8h1v0.9h-1zM767 672.2h1v3.9h-1zM767 681.7h1v7.9h-1zM772 679.7h1v1.4h-1zM772 692.8h1v2.7h-1zM776 696.1h1v3.5h-1zM779 696.1h1v3.5h-1zM788 688.5h1v0.4h-1zM788 705.2h1v8.4h-1zM792 705.0h1v2.7h-1zM795 705.0h1v2.7h-1zM799 693.0h1v13.7h-1zM799 708.0h1v2.7h-1zM808 699.2h1v4.4h-1zM811 699.2h1v4.4h-1zM815 698.3h1v4.6h-1zM815 704.3h1v4.5h-1zM820 701.6h1v2.5h-1zM820 729.9h1v12.2h-1zM824 729.9h1v7.8h-1zM827 729.9h1v7.8h-1zM836 724.9h1v4.0h-1zM836 730.2h1v11.9h-1zM840 728.3h1v7.2h-1zM843 728.3h1v7.2h-1zM847 728.3h1v6.9h-1zM847 739.6h1v2.0h-1zM852 730.3h1v8.8h-1zM852 745.5h1v3.3h-1zM863 716.0h1v14.1h-1zM863 732.7h1v11.6h-1zM872 726.0h1v6.7h-1zM875 726.0h1v6.7h-1zM879 731.6h1v0.5h-1zM879 734.9h1v1.7h-1zM895 697.7h1v18.0h-1zM895 728.6h1v5.7h-1zM904 725.9h1v1.3h-1zM907 725.9h1v1.3h-1zM911 726.0h1v0.3h-1zM911 738.2h1v1.5h-1zM932 653.3h1v1.7h-1zM932 663.5h1v18.1h-1zM943 650.2h1v0.9h-1zM943 654.6h1v6.2h-1zM948 652.2h1v2.0h-1zM948 673.5h1v12.0h-1zM964 632.0h1v13.0h-1zM964 649.7h1v4.5h-1zM975 644.6h1v0.7h-1zM975 646.6h1v6.9h-1zM980 645.8h1v0.6h-1zM980 686.0h1v3.7h-1zM984 685.7h1v24.2h-1zM987 685.7h1v24.2h-1zM1000 692.2h1v5.7h-1zM1003 692.2h1v5.7h-1zM1023 646.9h1v15.5h-1zM1023 666.1h1v1.4h-1zM1028 662.2h1v3.5h-1zM1028 716.8h1v12.0h-1zM1044 676.8h1v15.4h-1zM1044 703.8h1v3.7h-1zM1055 691.9h1v5.8h-1zM1055 706.6h1v8.3h-1zM1064 699.0h1v10.7h-1zM1067 699.0h1v10.7h-1zM1076 704.9h1v2.8h-1zM1076 735.4h1v7.2h-1zM1096 682.2h1v25.7h-1zM1099 682.2h1v25.7h-1zM1128 639.1h1v18.4h-1zM1131 639.1h1v18.4h-1zM1144 638.3h1v24.4h-1zM1147 638.3h1v24.4h-1zM1151 657.7h1v4.7h-1zM1151 670.5h1v13.9h-1zM1156 666.1h1v3.8h-1zM1156 677.2h1v9.6h-1zM1167 665.3h1v5.2h-1zM1167 676.0h1v2.3h-1zM1172 667.5h1v8.2h-1zM1172 683.8h1v10.6h-1zM1183 640.0h1v21.6h-1zM1183 670.5h1v7.2h-1zM1208 544.4h1v41.6h-1zM1211 544.4h1v41.6h-1zM1215 569.6h1v16.4h-1zM1215 639.3h1v10.6h-1zM1220 637.7h1v2.2h-1zM1220 656.7h1v24.8h-1zM1231 614.9h1v5.0h-1zM1231 629.9h1v10.0h-1zM1236 618.8h1v11.1h-1zM1236 659.9h1v9.4h-1zM1240 659.9h1v11.6h-1zM1243 659.9h1v11.6h-1zM1247 662.2h1v9.8h-1zM1247 687.5h1v18.0h-1zM1268 591.6h1v2.8h-1zM1268 618.0h1v10.2h-1zM1272 616.2h1v15.9h-1zM1275 616.2h1v15.9h-1zM1284 601.4h1v1.8h-1zM1284 613.6h1v8.5h-1zM1332 357.4h1v29.2h-1zM1332 420.7h1v5.0h-1zM1364 275.0h1v32.0h-1zM1364 333.3h1v6.6h-1zM1368 332.9h1v46.7h-1zM1371 332.9h1v46.7h-1zM1375 349.1h1v30.8h-1zM1375 390.7h1v8.8h-1zM1380 384.1h1v6.6h-1zM1380 415.7h1v9.2h-1zM1391 372.4h1v16.2h-1zM1391 397.4h1v18.8h-1zM1407 321.3h1v15.6h-1zM1407 339.1h1v40.5h-1zM1428 179.9h1v8.0h-1zM1432 179.1h1v85.5h-1zM1435 179.1h1v85.5h-1zM1471 69.1h1v17.2h-1zM1471 131.3h1v98.5h-1zM1476 123.3h1v8.0h-1zM1476 147.9h1v26.2h-1zM1492 119.6h1v4.5h-1zM1492 199.5h1v24.5h-1zM1496 199.0h1v58.5h-1zM1499 199.0h1v58.5h-1zM1503 234.0h1v23.5h-1zM1503 409.5h1v83.0h-1zM1512 376.9h1v41.7h-1zM1515 376.9h1v41.7h-1zM1528 338.0h1v40.6h-1zM1531 338.0h1v40.6h-1zM1535 369.1h1v9.2h-1zM1535 433.6h1v27.1h-1zM1540 427.4h1v6.2h-1zM1540 459.9h1v4.1h-1zM1560 395.8h1v44.9h-1zM1563 395.8h1v44.9h-1zM1576 402.4h1v62.5h-1zM1579 402.4h1v62.5h-1zM1588 447.4h1v6.6h-1zM1588 499.8h1v1.7h-1zM1592 499.6h1v21.2h-1zM1595 499.6h1v21.2h-1zM1599 506.3h1v13.7h-1zM1599 529.1h1v32.8h-1zM1608 522.5h1v78.2h-1zM1611 522.5h1v78.2h-1zM1620 579.9h1v5.8h-1zM1620 614.9h1v4.1h-1zM1624 614.5h1v22.9h-1zM1627 614.5h1v22.9h-1zM1636 605.2h1v10.5h-1zM1636 637.4h1v9.4h-1zM1652 566.2h1v29.0h-1zM1652 600.2h1v2.2h-1zM1656 599.9h1v5.0h-1zM1659 599.9h1v5.0h-1zM1663 592.4h1v12.2h-1zM1663 627.4h1v20.8h-1zM1668 619.9h1v7.0h-1zM1668 634.9h1v19.6h-1zM1711 459.0h1v10.7h-1zM1711 471.7h1v8.3h-1zM1716 456.9h1v14.4h-1zM1716 487.9h1v17.0h-1zM1720 486.9h1v23.0h-1zM1723 486.9h1v23.0h-1zM1780 317.4h1v2.9h-1zM1780 407.4h1v13.8h-1zM1796 365.7h1v13.4h-1zM1796 393.6h1v8.8h-1zM1839 266.3h1v8.7h-1zM1839 295.3h1v24.3h-1zM1844 280.0h1v15.0h-1zM1844 298.6h1v28.8h-1zM1848 298.3h1v27.5h-1zM1851 298.3h1v27.5h-1zM1860 316.3h1v2.8h-1zM1860 355.7h1v9.2h-1zM1876 330.8h1v8.3h-1zM1876 363.6h1v26.6h-1zM1880 363.2h1v10.9h-1zM1883 363.2h1v10.9h-1zM1896 341.3h1v29.4h-1zM1899 341.3h1v29.4h-1zM1903 361.6h1v8.6h-1zM1903 386.6h1v5.8h-1zM1908 380.7h1v5.9h-1zM1908 388.2h1v19.2h-1zM1912 388.0h1v72.8h-1zM1915 388.0h1v72.8h-1zM1924 435.8h1v5.5h-1zM1924 487.9h1v8.7h-1zM1944 441.3h1v84.4h-1zM1947 441.3h1v84.4h-1zM1960 462.4h1v2.5h-1zM1963 462.4h1v2.5h-1zM1983 403.7h1v2.9h-1zM1983 427.5h1v12.5h-1zM1992 423.3h1v70.8h-1zM1995 423.3h1v70.8h-1zM1999 491.2h1v2.9h-1zM1999 511.9h1v21.0h-1z"/>
<path fill="#f00" d="M30 931.9h1v3.4h-1zM31 931.9h1v3.4h-1zM32 931.9h1v3.4h-1zM35 935.0h1v1.3h-1zM36 935.0h1v1.3h-1zM37 935.0h1v1.3h-1zM41 935.1h1v8.2h-1zM42 935.1h1v8.2h-1zM51 937.1h1v1.7h-1zM52 937.1h1v1.7h-1zM53 937.1h1v1.7h-1zM67 917.0h1v17.3h-1zM68 917.0h1v17.3h-1zM69 917.0h1v17.3h-1zM73 934.5h1v2.3h-1zM74 934.5h1v2.3h-1zM94 893.9h1v7.5h-1zM95 893.9h1v7.5h-1zM96 893.9h1v7.5h-1zM115 883.0h1v2.6h-1zM116 883.0h1v2.6h-1zM117 883.0h1v2.6h-1zM121 885.8h1v12.4h-1zM122 885.8h1v12.4h-1zM126 897.7h1v13.0h-1zM127 897.7h1v13.0h-1zM128 897.7h1v13.0h-1zM142 905.5h1v1.3h-1zM143 905.5h1v1.3h-1zM144 905.5h1v1.3h-1zM147 906.4h1v3.2h-1zM148 906.4h1v3.2h-1zM149 906.4h1v3.2h-1zM153 909.1h1v6.4h-1zM154 909.1h1v6.4h-1zM158 914.8h1v1.3h-1zM159 914.8h1v1.3h-1zM160 914.8h1v1.3h-1zM163 916.0h1v1.5h-1zM164 916.0h1v1.5h-1zM165 916.0h1v1.5h-1zM174 910.3h1v1.4h-1zM175 910.3h1v1.4h-1zM176 910.3h1v1.4h-1zM185 900.1h1v6.0h-1zM186 900.1h1v6.0h-1zM195 868.2h1v2.0h-1zM196 868.2h1v2.0h-1zM197 868.2h1v2.0h-1zM206 866.2h1v5.6h-1zM207 866.2h1v5.6h-1zM208 866.2h1v5.6h-1zM227 846.0h1v1.3h-1zM228 846.0h1v1.3h-1zM229 846.0h1v1.3h-1zM233 844.9h1v4.2h-1zM234 844.9h1v4.2h-1zM238 848.5h1v3.6h-1zM239 848.5h1v3.6h-1zM240 848.5h1v3.6h-1zM254 846.4h1v3.5h-1zM255 846.4h1v3.5h-1zM256 846.4h1v3.5h-1zM259 849.9h1v12.8h-1zM260 849.9h1v12.8h-1zM261 849.9h1v12.8h-1zM281 839.6h1v1.4h-1zM282 839.6h1v1.4h-1zM297 820.3h1v3.8h-1zM298 820.3h1v3.8h-1zM307 821.8h1v7.6h-1zM308 821.8h1v7.6h-1zM309 821.8h1v7.6h-1zM339 803.2h1v1.3h-1zM340 803.2h1v1.3h-1zM341 803.2h1v1.3h-1zM345 804.4h1v5.6h-1zM346 804.4h1v5.6h-1zM366 783.3h1v10.8h-1zM367 783.3h1v10.8h-1zM368 783.3h1v10.8h-1zM377 783.3h1v4.1h-1zM378 783.3h1v4.1h-1zM382 786.3h1v3.7h-1zM383 786.3h1v3.7h-1zM384 786.3h1v3.7h-1zM387 789.2h1v12.2h-1zM388 789.2h1v12.2h-1zM389 789.2h1v12.2h-1zM403 790.0h1v2.2h-1zM404 790.0h1v2.2h-1zM405 790.0h1v2.2h-1zM419 785.3h1v24.1h-1zM420 785.3h1v24.1h-1zM421 785.3h1v24.1h-1zM425 804.1h1v21.4h-1zM426 804.1h1v21.4h-1zM451 802.4h1v3.1h-1zM452 802.4h1v3.1h-1zM453 802.4h1v3.1h-1zM462 789.2h1v3.5h-1zM463 789.2h1v3.5h-1zM464 789.2h1v3.5h-1zM467 792.2h1v11.1h-1zM468 792.2h1v11.1h-1zM469 792.2h1v11.1h-1zM473 804.1h1v33.6h-1zM474 804.1h1v33.6h-1zM489 816.6h1v4.6h-1zM490 816.6h1v4.6h-1zM515 799.0h1v2.6h-1zM516 799.0h1v2.6h-1zM517 799.0h1v2.6h-1zM521 799.0h1v2.6h-1zM522 799.0h1v2.6h-1zM542 765.8h1v1.3h-1zM543 765.8h1v1.3h-1zM544 765.8h1v1.3h-1zM547 766.1h1v1.4h-1zM548 766.1h1v1.4h-1zM549 766.1h1v1.4h-1zM553 768.0h1v5.8h-1zM554 768.0h1v5.8h-1zM558 773.8h1v1.9h-1zM559 773.8h1v1.9h-1zM560 773.8h1v1.9h-1zM574 758.0h1v11.7h-1zM575 758.0h1v11.7h-1zM576 758.0h1v11.7h-1zM585 765.3h1v1.9h-1zM586 765.3h1v1.9h-1zM590 767.4h1v1.3h-1zM591 767.4h1v1.3h-1zM592 767.4h1v1.3h-1zM595 768.3h1v4.1h-1zM596 768.3h1v4.1h-1zM597 768.3h1v4.1h-1zM606 742.2h1v26.9h-1zM607 742.2h1v26.9h-1zM608 742.2h1v26.9h-1zM622 755.3h1v2.2h-1zM623 755.3h1v2.2h-1zM624 755.3h1v2.2h-1zM627 757.2h1v4.8h-1zM628 757.2h1v4.8h-1zM629 757.2h1v4.8h-1zM633 762.1h1v12.6h-1zM634 762.1h1v12.6h-1zM654 750.1h1v1.3h-1zM655 750.1h1v1.3h-1zM656 750.1h1v1.3h-1zM659 751.0h1v5.9h-1zM660 751.0h1v5.9h-1zM661 751.0h1v5.9h-1zM665 756.6h1v7.0h-1zM666 756.6h1v7.0h-1zM681 749.9h1v1.7h-1zM682 749.9h1v1.7h-1zM697 748.3h1v11.6h-1zM698 748.3h1v11.6h-1zM707 751.0h1v5.6h-1zM708 751.0h1v5.6h-1zM709 751.0h1v5.6h-1zM713 756.9h1v4.7h-1zM714 756.9h1v4.7h-1zM723 759.9h1v15.0h-1zM724 759.9h1v15.0h-1zM725 759.9h1v15.0h-1zM739 721.0h1v1.3h-1zM740 721.0h1v1.3h-1zM741 721.0h1v1.3h-1zM750 709.1h1v4.7h-1zM751 709.1h1v4.7h-1zM752 709.1h1v4.7h-1zM766 676.1h1v5.6h-1zM767 676.1h1v5.6h-1zM768 676.1h1v5.6h-1zM771 681.1h1v11.7h-1zM772 681.1h1v11.7h-1zM773 681.1h1v11.7h-1zM777 696.1h1v3.5h-1zM778 696.1h1v3.5h-1zM787 688.9h1v16.3h-1zM788 688.9h1v16.3h-1zM789 688.9h1v16.3h-1zM793 705.0h1v2.7h-1zM794 705.0h1v2.7h-1zM798 706.7h1v1.3h-1zM799 706.7h1v1.3h-1zM800 706.7h1v1.3h-1zM809 699.2h1v4.4h-1zM810 699.2h1v4.4h-1zM814 702.9h1v1.3h-1zM815 702.9h1v1.3h-1zM816 702.9h1v1.3h-1zM819 704.1h1v25.8h-1zM820 704.1h1v25.8h-1zM821 704.1h1v25.8h-1zM825 729.9h1v7.8h-1zM826 729.9h1v7.8h-1zM835 728.9h1v1.3h-1zM836 728.9h1v1.3h-1zM837 728.9h1v1.3h-1zM841 728.3h1v7.2h-1zM842 728.3h1v7.2h-1zM846 735.2h1v4.4h-1zM847 735.2h1v4.4h-1zM848 735.2h1v4.4h-1zM851 739.1h1v6.4h-1zM852 739.1h1v6.4h-1zM853 739.1h1v6.4h-1zM862 730.1h1v2.6h-1zM863 730.1h1v2.6h-1zM864 730.1h1v2.6h-1zM873 726.0h1v6.7h-1zM874 726.0h1v6.7h-1zM878 732.1h1v2.8h-1zM879 732.1h1v2.8h-1zM880 732.1h1v2.8h-1zM894 715.7h1v12.9h-1zM895 715.7h1v12.9h-1zM896 715.7h1v12.9h-1zM905 725.9h1v1.3h-1zM906 725.9h1v1.3h-1zM910 726.3h1v11.9h-1zM911 726.3h1v11.9h-1zM912 726.3h1v11.9h-1zM931 655.0h1v8.5h-1zM932 655.0h1v8.5h-1zM933 655.0h1v8.5h-1zM942 651.1h1v3.5h-1zM943 651.1h1v3.5h-1zM944 651.1h1v3.5h-1zM947 654.2h1v19.3h-1zM948 654.2h1v19.3h-1zM949 654.2h1v19.3h-1zM963 645.0h1v4.7h-1zM964 645.0h1v4.7h-1zM965 645.0h1v4.7h-1zM974 645.3h1v1.3h-1zM975 645.3h1v1.3h-1zM976 645.3h1v1.3h-1zM979 646.4h1v39.6h-1zM980 646.4h1v39.6h-1zM981 646.4h1v39.6h-1zM985 685.7h1v24.2h-1zM986 685.7h1v24.2h-1zM1001 692.2h1v5.7h-1zM1002 692.2h1v5.7h-1zM1022 662.4h1v3.7h-1zM1023 662.4h1v3.7h-1zM1024 662.4h1v3.7h-1zM1027 665.7h1v51.1h-1zM1028 665.7h1v51.1h-1zM1029 665.7h1v51.1h-1zM1043 692.2h1v11.6h-1zM1044 692.2h1v11.6h-1zM1045 692.2h1v11.6h-1zM1054 697.7h1v8.9h-1zM1055 697.7h1v8.9h-1zM1056 697.7h1v8.9h-1zM1065 699.0h1v10.7h-1zM1066 699.0h1v10.7h-1zM1075 707.7h1v27.7h-1zM1076 707.7h1v27.7h-1zM1077 707.7h1v27.7h-1zM1097 682.2h1v25.7h-1zM1098 682.2h1v25.7h-1zM1129 639.1h1v18.4h-1zM1130 639.1h1v18.4h-1zM1145 638.3h1v24.4h-1zM1146 638.3h1v24.4h-1zM1150 662.4h1v8.1h-1zM1151 662.4h1v8.1h-1zM1152 662.4h1v8.1h-1zM1155 669.9h1v7.3h-1zM1156 669.9h1v7.3h-1zM1157 669.9h1v7.3h-1zM1166 670.5h1v5.5h-1zM1167 670.5h1v5.5h-1zM1168 670.5h1v5.5h-1zM1171 675.7h1v8.1h-1zM1172 675.7h1v8.1h-1zM1173 675.7h1v8.1h-1zM1182 661.6h1v8.9h-1zM1183 661.6h1v8.9h-1zM1184 661.6h1v8.9h-1zM1209 544.4h1v41.6h-1zM1210 544.4h1v41.6h-1zM1214 586.0h1v53.3h-1zM1215 586.0h1v53.3h-1zM1216 586.0h1v53.3h-1zM1219 639.9h1v16.8h-1zM1220 639.9h1v16.8h-1zM1221 639.9h1v16.8h-1zM1230 619.9h1v10.0h-1zM1231 619.9h1v10.0h-1zM1232 619.9h1v10.0h-1zM1235 629.9h1v30.0h-1zM1236 629.9h1v30.0h-1zM1237 629.9h1v30.0h-1zM1241 659.9h1v11.6h-1zM1242 659.9h1v11.6h-1zM1246 672.0h1v15.5h-1zM1247 672.0h1v15.5h-1zM1248 672.0h1v15.5h-1zM1267 594.4h1v23.6h-1zM1268 594.4h1v23.6h-1zM1269 594.4h1v23.6h-1zM1273 616.2h1v15.9h-1zM1274 616.2h1v15.9h-1zM1283 603.2h1v10.4h-1zM1284 603.2h1v10.4h-1zM1285 603.2h1v10.4h-1zM1331 386.6h1v34.1h-1zM1332 386.6h1v34.1h-1zM1333 386.6h1v34.1h-1zM1363 307.0h1v26.3h-1zM1364 307.0h1v26.3h-1zM1365 307.0h1v26.3h-1zM1369 332.9h1v46.7h-1zM1370 332.9h1v46.7h-1zM1374 379.9h1v10.8h-1zM1375 379.9h1v10.8h-1zM1376 379.9h1v10.8h-1zM1379 390.7h1v25.0h-1zM1380 390.7h1v25.0h-1zM1381 390.7h1v25.0h-1zM1390 388.6h1v8.8h-1zM1391 388.6h1v8.8h-1zM1392 388.6h1v8.8h-1zM1406 336.9h1v2.2h-1zM1407 336.9h1v2.2h-1zM1408 336.9h1v2.2h-1zM1427 129.1h1v50.8h-1zM1428 129.1h1v50.8h-1zM1429 129.1h1v50.8h-1zM1433 179.1h1v85.5h-1zM1434 179.1h1v85.5h-1zM1470 86.3h1v45.0h-1zM1471 86.3h1v45.0h-1zM1472 86.3h1v45.0h-1zM1475 131.3h1v16.6h-1zM1476 131.3h1v16.6h-1zM1477 131.3h1v16.6h-1zM1491 124.1h1v75.4h-1zM1492 124.1h1v75.4h-1zM1493 124.1h1v75.4h-1zM1497 199.0h1v58.5h-1zM1498 199.0h1v58.5h-1zM1502 257.5h1v152.0h-1zM1503 257.5h1v152.0h-1zM1504 257.5h1v152.0h-1zM1513 376.9h1v41.7h-1zM1514 376.9h1v41.7h-1zM1529 338.0h1v40.6h-1zM1530 338.0h1v40.6h-1zM1534 378.3h1v55.3h-1zM1535 378.3h1v55.3h-1zM1536 378.3h1v55.3h-1zM1539 433.6h1v26.3h-1zM1540 433.6h1v26.3h-1zM1541 433.6h1v26.3h-1zM1561 395.8h1v44.9h-1zM1562 395.8h1v44.9h-1zM1577 402.4h1v62.5h-1zM1578 402.4h1v62.5h-1zM1587 454.0h1v45.8h-1zM1588 454.0h1v45.8h-1zM1589 454.0h1v45.8h-1zM1593 499.6h1v21.2h-1zM1594 499.6h1v21.2h-1zM1598 520.0h1v9.1h-1zM1599 520.0h1v9.1h-1zM1600 520.0h1v9.1h-1zM1609 522.5h1v78.2h-1zM1610 522.5h1v78.2h-1zM1619 585.7h1v29.2h-1zM1620 585.7h1v29.2h-1zM1621 585.7h1v29.2h-1zM1625 614.5h1v22.9h-1zM1626 614.5h1v22.9h-1zM1635 615.7h1v21.7h-1zM1636 615.7h1v21.7h-1zM1637 615.7h1v21.7h-1zM1651 595.2h1v5.0h-1zM1652 595.2h1v5.0h-1zM1653 595.2h1v5.0h-1zM1657 599.9h1v5.0h-1zM1658 599.9h1v5.0h-1zM1662 604.6h1v22.8h-1zM1663 604.6h1v22.8h-1zM1664 604.6h1v22.8h-1zM1667 626.9h1v8.0h-1zM1668 626.9h1v8.0h-1zM1669 626.9h1v8.0h-1zM1710 469.7h1v2.0h-1zM1711 469.7h1v2.0h-1zM1712 469.7h1v2.0h-1zM1715 471.3h1v16.6h-1zM1716 471.3h1v16.6h-1zM1717 471.3h1v16.6h-1zM1721 486.9h1v23.0h-1zM1722 486.9h1v23.0h-1zM1779 320.3h1v87.1h-1zM1780 320.3h1v87.1h-1zM1781 320.3h1v87.1h-1zM1795 379.1h1v14.5h-1zM1796 379.1h1v14.5h-1zM1797 379.1h1v14.5h-1zM1838 275.0h1v20.3h-1zM1839 275.0h1v20.3h-1zM1840 275.0h1v20.3h-1zM1843 295.0h1v3.6h-1zM1844 295.0h1v3.6h-1zM1845 295.0h1v3.6h-1zM1849 298.3h1v27.5h-1zM1850 298.3h1v27.5h-1zM1859 319.1h1v36.6h-1zM1860 319.1h1v36.6h-1zM1861 319.1h1v36.6h-1zM1875 339.1h1v24.5h-1zM1876 339.1h1v24.5h-1zM1877 339.1h1v24.5h-1zM1881 363.2h1v10.9h-1zM1882 363.2h1v10.9h-1zM1897 341.3h1v29.4h-1zM1898 341.3h1v29.4h-1zM1902 370.2h1v16.4h-1zM1903 370.2h1v16.4h-1zM1904 370.2h1v16.4h-1zM1907 386.6h1v1.6h-1zM1908 386.6h1v1.6h-1zM1909 386.6h1v1.6h-1zM1913 388.0h1v72.8h-1zM1914 388.0h1v72.8h-1zM1923 441.3h1v46.6h-1zM1924 441.3h1v46.6h-1zM1925 441.3h1v46.6h-1zM1945 441.3h1v84.4h-1zM1946 441.3h1v84.4h-1zM1961 462.4h1v2.5h-1zM1962 462.4h1v2.5h-1zM1982 406.6h1v20.9h-1zM1983 406.6h1v20.9h-1zM1984 406.6h1v20.9h-1zM1993 423.3h1v70.8h-1zM1994 423.3h1v70.8h-1zM1998 494.1h1v17.8h-1zM1999 494.1h1v17.8h-1zM2000 494.1h1v17.8h-1z"/>
</g>
<clipPath id="cm"><rect x="5" y="4.2" width="2506" height="977.9"/></clipPath>
<polyline points="4.7,956.1 10.0,955.9 15.3,954.6 20.7,952.3 26.0,948.8 31.3,946.3 36.7,944.5 42.0,943.9 47.3,942.9 52.7,941.7 58.0,937.9 63.3,934.3 68.7,934.3 74.0,935.1 79.3,935.0 84.7,929.4 90.0,922.9 95.3,918.8 100.7,914.4 106.0,909.7 111.3,904.9 116.7,901.4 122.0,900.7 127.3,902.6 132.7,903.8 138.0,904.1 143.3,904.6 148.7,905.5 154.0,907.3 159.3,908.9 164.7,910.5 170.0,910.5 175.3,910.7 180.7,908.9 186.0,908.4 191.3,901.5 196.7,895.8 202.0,890.4 207.3,887.0 212.7,882.8 218.0,877.7 223.3,871.9 228.7,867.4 234.0,864.1 239.3,861.9 244.7,859.5 250.0,857.1 255.3,855.8 260.7,857.0 266.0,857.2 271.3,856.5 276.7,853.5 282.0,851.2 287.3,846.6 292.7,842.0 298.0,838.7 303.3,835.7 308.7,834.6 314.0,833.4 319.3,831.3 324.7,829.4 330.0,825.6 335.3,821.6 340.7,818.5 346.0,817.0 351.3,814.8 356.7,809.8 362.0,805.0 367.3,803.0 372.7,799.4 378.0,797.2 383.3,795.9 388.7,796.9 394.0,795.9 399.3,794.7 404.7,794.2 410.0,793.3 415.3,791.9 420.7,795.1 426.0,800.6 431.3,803.9 436.7,805.7 442.0,806.9 447.3,806.1 452.7,806.0 458.0,802.9 463.3,801.1 468.7,801.5 474.0,808.1 479.3,811.5 484.7,812.6 490.0,814.2 495.3,815.2 500.7,815.9 506.0,816.3 511.3,813.2 516.7,811.1 522.0,809.3 527.3,806.6 532.7,802.7 538.0,796.1 543.3,790.8 548.7,786.5 554.0,784.2 559.3,782.7 564.7,779.7 570.0,775.7 575.3,774.6 580.7,773.2 586.0,772.1 591.3,771.4 596.7,771.6 602.0,766.3 607.3,766.8 612.7,766.7 618.0,764.6 623.3,763.3 628.7,763.1 634.0,765.2 639.3,763.9 644.7,762.2 650.0,760.0 655.3,758.4 660.7,758.2 666.0,759.1 671.3,758.8 676.7,757.3 682.0,756.2 687.3,755.1 692.7,753.9 698.0,755.0 703.3,754.3 708.7,754.7 714.0,755.9 719.3,756.7 724.7,760.0 730.0,761.3 735.3,754.0 740.7,748.2 746.0,741.1 751.3,736.1 756.7,729.0 762.0,719.6 767.3,712.7 772.7,709.1 778.0,707.4 783.3,704.2 788.7,704.4 794.0,705.0 799.3,705.5 804.7,704.3 810.0,704.2 815.3,704.1 820.7,708.8 826.0,714.1 831.3,716.8 836.7,719.2 842.0,722.2 847.3,725.3 852.7,729.0 858.0,729.1 863.3,729.7 868.7,729.1 874.0,729.8 879.3,730.7 884.7,728.9 890.0,726.5 895.3,726.9 900.7,726.8 906.0,726.8 911.3,728.9 916.7,726.6 922.0,723.9 927.3,711.3 932.7,702.6 938.0,693.3 943.3,686.2 948.7,683.9 954.0,682.0 959.3,675.1 964.7,670.5 970.0,665.8 975.3,662.3 980.7,666.6 986.0,674.5 991.3,678.8 996.7,681.5 1002.0,684.5 1007.3,685.4 1012.7,683.5 1018.0,679.6 1023.3,677.2 1028.7,684.4 1034.0,687.9 1039.3,688.6 1044.7,691.4 1050.0,692.4 1055.3,695.0 1060.7,695.7 1066.0,698.3 1071.3,699.9 1076.7,706.3 1082.0,708.3 1087.3,707.0 1092.7,703.3 1098.0,704.1 1103.3,704.5 1108.7,704.3 1114.0,700.4 1119.3,693.0 1124.7,686.3 1130.0,681.1 1135.3,675.1 1140.7,668.4 1146.0,667.4 1151.3,667.9 1156.7,669.6 1162.0,669.7 1167.3,670.8 1172.7,673.2 1178.0,671.1 1183.3,671.0 1188.7,670.3 1194.0,664.3 1199.3,650.6 1204.7,631.4 1210.0,623.1 1215.3,626.1 1220.7,631.7 1226.0,629.6 1231.3,629.6 1236.7,635.1 1242.0,641.7 1247.3,650.1 1252.7,654.7 1258.0,646.2 1263.3,636.8 1268.7,633.4 1274.0,633.1 1279.3,627.7 1284.7,625.1 1290.0,621.7 1295.3,616.2 1300.7,607.8 1306.0,590.5 1311.3,569.9 1316.7,546.2 1322.0,519.2 1327.3,495.1 1332.7,481.6 1338.0,467.5 1343.3,451.9 1348.7,435.0 1354.0,416.4 1359.3,396.5 1364.7,385.0 1370.0,384.0 1375.3,385.2 1380.7,390.8 1386.0,390.2 1391.3,391.5 1396.7,389.0 1402.0,379.5 1407.3,372.2 1412.7,358.9 1418.0,317.4 1423.3,283.0 1428.7,264.3 1434.0,264.3 1439.3,257.4 1444.7,250.0 1450.0,242.0 1455.3,232.2 1460.7,222.6 1466.0,197.8 1471.3,185.7 1476.7,178.8 1482.0,169.4 1487.3,161.2 1492.7,168.1 1498.0,184.4 1503.3,225.3 1508.7,255.1 1514.0,284.8 1519.3,303.4 1524.7,309.7 1530.0,322.2 1535.3,342.5 1540.7,363.8 1546.0,380.5 1551.3,390.6 1556.7,391.5 1562.0,400.5 1567.3,402.4 1572.7,403.0 1578.0,414.3 1583.3,421.5 1588.7,435.7 1594.0,451.2 1599.3,465.4 1604.7,476.4 1610.0,499.0 1615.3,514.6 1620.7,532.9 1626.0,551.9 1631.3,563.5 1636.7,576.9 1642.0,583.7 1647.3,585.9 1652.7,588.5 1658.0,591.5 1663.3,598.0 1668.7,604.7 1674.0,607.9 1679.3,608.5 1684.7,602.3 1690.0,588.7 1695.3,574.1 1700.7,560.4 1706.0,543.9 1711.3,530.8 1716.7,523.0 1722.0,520.6 1727.3,514.5 1732.7,506.7 1738.0,493.8 1743.3,482.0 1748.7,471.0 1754.0,456.8 1759.3,443.8 1764.7,428.0 1770.0,408.9 1775.3,392.8 1780.7,395.5 1786.0,394.8 1791.3,391.7 1796.7,392.0 1802.0,389.1 1807.3,385.3 1812.7,379.9 1818.0,367.6 1823.3,357.4 1828.7,347.6 1834.0,334.5 1839.3,327.4 1844.7,322.2 1850.0,322.8 1855.3,322.1 1860.7,328.2 1866.0,331.1 1871.3,332.4 1876.7,338.1 1882.0,344.6 1887.3,342.0 1892.7,339.5 1898.0,345.2 1903.3,352.7 1908.7,359.2 1914.0,377.7 1919.3,389.2 1924.7,407.2 1930.0,418.0 1935.3,424.6 1940.7,427.6 1946.0,445.5 1951.3,449.8 1956.7,451.3 1962.0,453.8 1967.3,454.7 1972.7,452.5 1978.0,444.4 1983.3,441.3 1988.7,438.2 1994.0,448.4 1999.3,459.9" fill="none" stroke="#000" stroke-opacity="0.55" stroke-width="1.2" stroke-linejoin="round" clip-path="url(#cm)"/>
<g clip-path="url(#cm)">
<line x1="162" y1="983.3" x2="2282.3" y2="515.3" stroke="#000" stroke-opacity="0.92" stroke-width="1.4"/>
<line x1="1193.7" y1="530.35" x2="2042.0" y2="529.6" stroke="#000" stroke-opacity="0.93" stroke-width="1.5"/>
</g>
<g id="paxis">
<rect x="2512.2" y="5.7" width="1.6" height="1.4" fill="#3a3a3a"/>
<text x="2516.8" y="10.3" font-size="9.65" textLength="33.7" lengthAdjust="spacingAndGlyphs">134.530</text>
<rect x="2512.2" y="48.6" width="1.6" height="1.4" fill="#3a3a3a"/>
<text x="2516.8" y="53.2" font-size="9.65" textLength="33.7" lengthAdjust="spacingAndGlyphs">131.850</text>
<rect x="2512.2" y="92.0" width="1.6" height="1.4" fill="#3a3a3a"/>
<text x="2516.8" y="96.6" font-size="9.65" textLength="33.7" lengthAdjust="spacingAndGlyphs">129.170</text>
<rect x="2512.2" y="135.3" width="1.6" height="1.4" fill="#3a3a3a"/>
<text x="2516.8" y="139.9" font-size="9.65" textLength="33.7" lengthAdjust="spacingAndGlyphs">126.530</text>
<rect x="2512.2" y="178.6" width="1.6" height="1.4" fill="#3a3a3a"/>
<text x="2516.8" y="183.2" font-size="9.65" textLength="33.7" lengthAdjust="spacingAndGlyphs">123.850</text>
<rect x="2512.2" y="222.0" width="1.6" height="1.4" fill="#3a3a3a"/>
<text x="2516.8" y="226.6" font-size="9.65" textLength="33.7" lengthAdjust="spacingAndGlyphs">121.210</text>
<rect x="2512.2" y="265.3" width="1.6" height="1.4" fill="#3a3a3a"/>
<text x="2516.8" y="269.9" font-size="9.65" textLength="33.7" lengthAdjust="spacingAndGlyphs">118.530</text>
<rect x="2512.2" y="308.7" width="1.6" height="1.4" fill="#3a3a3a"/>
<text x="2516.8" y="313.3" font-size="9.65" textLength="33.7" lengthAdjust="spacingAndGlyphs">115.850</text>
<rect x="2512.2" y="352.0" width="1.6" height="1.4" fill="#3a3a3a"/>
<text x="2516.8" y="356.6" font-size="9.65" textLength="33.7" lengthAdjust="spacingAndGlyphs">113.210</text>
<rect x="2512.2" y="395.3" width="1.6" height="1.4" fill="#3a3a3a"/>
<text x="2516.8" y="399.9" font-size="9.65" textLength="33.7" lengthAdjust="spacingAndGlyphs">110.530</text>
<rect x="2512.2" y="438.7" width="1.6" height="1.4" fill="#3a3a3a"/>
<text x="2516.8" y="443.3" font-size="9.65" textLength="33.7" lengthAdjust="spacingAndGlyphs">107.890</text>
<rect x="2512.2" y="482.0" width="1.6" height="1.4" fill="#3a3a3a"/>
<text x="2516.8" y="486.6" font-size="9.65" textLength="33.7" lengthAdjust="spacingAndGlyphs">105.210</text>
<rect x="2512.2" y="525.3" width="1.6" height="1.4" fill="#3a3a3a"/>
<text x="2516.8" y="529.9" font-size="9.65" textLength="33.7" lengthAdjust="spacingAndGlyphs">102.530</text>
<rect x="2512.2" y="568.7" width="1.6" height="1.4" fill="#3a3a3a"/>
<text x="2516.8" y="573.3" font-size="9.65" textLength="28.5" lengthAdjust="spacingAndGlyphs">99.890</text>
<rect x="2512.2" y="612.0" width="1.6" height="1.4" fill="#3a3a3a"/>
<text x="2516.8" y="616.6" font-size="9.65" textLength="28.5" lengthAdjust="spacingAndGlyphs">97.210</text>
<rect x="2512.2" y="655.3" width="1.6" height="1.4" fill="#3a3a3a"/>
<text x="2516.8" y="659.9" font-size="9.65" textLength="28.5" lengthAdjust="spacingAndGlyphs">94.570</text>
<rect x="2512.2" y="698.7" width="1.6" height="1.4" fill="#3a3a3a"/>
<text x="2516.8" y="703.3" font-size="9.65" textLength="28.5" lengthAdjust="spacingAndGlyphs">91.890</text>
<rect x="2512.2" y="742.0" width="1.6" height="1.4" fill="#3a3a3a"/>
<text x="2516.8" y="746.6" font-size="9.65" textLength="28.5" lengthAdjust="spacingAndGlyphs">89.210</text>
<rect x="2512.2" y="785.4" width="1.6" height="1.4" fill="#3a3a3a"/>
<text x="2516.8" y="790.0" font-size="9.65" textLength="28.5" lengthAdjust="spacingAndGlyphs">86.570</text>
<rect x="2512.2" y="828.7" width="1.6" height="1.4" fill="#3a3a3a"/>
<text x="2516.8" y="833.3" font-size="9.65" textLength="28.5" lengthAdjust="spacingAndGlyphs">83.890</text>
<rect x="2512.2" y="872.0" width="1.6" height="1.4" fill="#3a3a3a"/>
<text x="2516.8" y="876.6" font-size="9.65" textLength="28.5" lengthAdjust="spacingAndGlyphs">81.250</text>
<rect x="2512.2" y="915.4" width="1.6" height="1.4" fill="#3a3a3a"/>
<text x="2516.8" y="920.0" font-size="9.65" textLength="28.5" lengthAdjust="spacingAndGlyphs">78.570</text>
<rect x="2512.2" y="958.7" width="1.6" height="1.4" fill="#3a3a3a"/>
<text x="2516.8" y="963.3" font-size="9.65" textLength="28.5" lengthAdjust="spacingAndGlyphs">75.890</text>
<rect x="2513.1" y="506.2" width="41" height="11.4" fill="#000"/>
<text x="2516.9" y="516.2" font-size="9.65" textLength="33.7" lengthAdjust="spacingAndGlyphs" style="fill:#fff">103.406</text>
</g>
<g id="raxis">
<rect x="2512.2" y="984.6" width="1.6" height="1.4" fill="#3a3a3a"/>
<text x="2515.2" y="994.7" font-size="9.65" textLength="15.4" lengthAdjust="spacingAndGlyphs">100</text>
<text x="2513.9" y="1066.0" font-size="9.65" textLength="10.3" lengthAdjust="spacingAndGlyphs">70</text>
<text x="2513.9" y="1168.3" font-size="9.65" textLength="10.3" lengthAdjust="spacingAndGlyphs">30</text>
<text x="2513.9" y="1239.0" font-size="9.65" textLength="5.1" lengthAdjust="spacingAndGlyphs">0</text>
</g>
<g id="rsi">
<line x1="5" y1="1062.0" x2="2511" y2="1062.0" stroke="#ffa2a2" stroke-width="2" stroke-dasharray="2 2"/>
<line x1="5" y1="1164.55" x2="2511" y2="1164.55" stroke="#ff747c" stroke-width="1.35" stroke-dasharray="2.1 1.9"/>
<polyline points="4.7,1106.2 10.0,1106.0 15.3,1102.6 20.7,1090.7 26.0,1077.1 31.3,1083.6 36.7,1085.2 42.0,1098.9 47.3,1090.3 52.7,1093.6 58.0,1070.8 63.3,1068.4 68.7,1098.6 74.0,1102.4 79.3,1100.4 84.7,1069.6 90.0,1061.0 95.3,1073.6 100.7,1068.6 106.0,1063.4 111.3,1060.0 116.7,1064.5 122.0,1084.7 127.3,1101.7 132.7,1100.0 138.0,1096.3 143.3,1097.8 148.7,1102.1 154.0,1110.9 159.3,1111.7 164.7,1114.0 170.0,1103.2 175.3,1105.3 180.7,1089.6 186.0,1099.3 191.3,1063.2 196.7,1063.0 202.0,1060.0 207.3,1070.1 212.7,1063.4 218.0,1056.6 223.3,1050.4 228.7,1052.9 234.0,1056.9 239.3,1063.1 244.7,1059.9 250.0,1057.9 255.3,1066.1 260.7,1091.7 266.0,1085.5 271.3,1080.8 276.7,1066.4 282.0,1068.6 287.3,1055.4 292.7,1051.8 298.0,1058.2 303.3,1056.5 308.7,1071.9 314.0,1070.4 319.3,1064.0 324.7,1063.3 330.0,1051.4 335.3,1047.9 340.7,1049.1 346.0,1063.0 351.3,1058.2 356.7,1043.5 362.0,1040.8 367.3,1064.5 372.7,1055.6 378.0,1063.8 383.3,1068.9 388.7,1089.8 394.0,1079.1 399.3,1076.8 404.7,1082.4 410.0,1079.0 415.3,1074.6 420.7,1114.0 426.0,1132.5 431.3,1123.2 436.7,1117.4 442.0,1115.1 447.3,1102.3 452.7,1106.9 458.0,1088.6 463.3,1093.7 468.7,1108.3 474.0,1142.2 479.3,1129.9 484.7,1119.8 490.0,1123.1 495.3,1121.6 500.7,1120.3 506.0,1119.5 511.3,1097.6 516.7,1100.9 522.0,1100.9 527.3,1092.9 532.7,1083.5 538.0,1067.5 543.3,1068.8 548.7,1069.8 554.0,1080.4 559.3,1083.6 564.7,1074.0 570.0,1066.8 575.3,1086.3 580.7,1083.2 586.0,1084.2 591.3,1086.7 596.7,1093.5 602.0,1063.8 607.3,1100.7 612.7,1098.2 618.0,1088.1 623.3,1091.0 628.7,1096.9 634.0,1112.3 639.3,1095.6 644.7,1092.3 650.0,1088.5 655.3,1090.1 660.7,1097.8 666.0,1106.8 671.3,1099.6 676.7,1091.8 682.0,1093.9 687.3,1092.3 692.7,1090.0 698.0,1108.6 703.3,1097.2 708.7,1105.7 714.0,1113.0 719.3,1110.5 724.7,1130.7 730.0,1119.1 735.3,1074.1 740.7,1075.5 746.0,1066.5 751.3,1073.0 756.7,1062.2 762.0,1051.5 767.3,1057.9 772.7,1072.3 778.0,1080.6 783.3,1074.0 788.7,1091.7 794.0,1094.5 799.3,1094.5 804.7,1087.1 810.0,1092.7 815.3,1093.1 820.7,1122.5 826.0,1129.7 831.3,1120.1 836.7,1120.8 842.0,1126.6 847.3,1130.7 852.7,1136.6 858.0,1116.0 863.3,1119.7 868.7,1112.0 874.0,1119.5 879.3,1122.0 884.7,1104.9 890.0,1099.1 895.3,1115.1 900.7,1112.4 906.0,1113.0 911.3,1126.9 916.7,1100.9 922.0,1096.2 927.3,1057.9 932.7,1067.6 938.0,1061.3 943.3,1065.4 948.7,1085.9 954.0,1085.6 959.3,1068.4 964.7,1074.3 970.0,1071.6 975.3,1073.4 980.7,1111.2 986.0,1127.8 991.3,1118.5 996.7,1115.4 1002.0,1118.5 1007.3,1111.8 1012.7,1100.6 1018.0,1091.9 1023.3,1095.5 1028.7,1132.5 1034.0,1122.8 1039.3,1114.5 1044.7,1122.2 1050.0,1117.3 1055.3,1123.7 1060.7,1117.8 1066.0,1125.3 1071.3,1123.1 1076.7,1141.4 1082.0,1126.1 1087.3,1114.3 1092.7,1104.3 1098.0,1119.1 1103.3,1117.9 1108.7,1115.6 1114.0,1101.3 1119.3,1087.3 1124.7,1085.5 1130.0,1086.5 1135.3,1080.8 1140.7,1075.2 1146.0,1097.8 1151.3,1104.2 1156.7,1109.7 1162.0,1104.1 1167.3,1109.4 1172.7,1116.0 1178.0,1098.5 1183.3,1106.3 1188.7,1103.7 1194.0,1083.2 1199.3,1060.7 1204.7,1046.8 1210.0,1077.1 1215.3,1106.4 1220.7,1114.4 1226.0,1099.2 1231.3,1103.8 1236.7,1117.2 1242.0,1122.1 1247.3,1128.6 1252.7,1122.4 1258.0,1094.4 1263.3,1089.7 1268.7,1100.9 1274.0,1107.2 1279.3,1096.1 1284.7,1101.0 1290.0,1098.0 1295.3,1092.4 1300.7,1084.2 1306.0,1066.6 1311.3,1058.2 1316.7,1050.3 1322.0,1042.8 1327.3,1041.1 1332.7,1060.0 1338.0,1056.5 1343.3,1051.8 1348.7,1047.5 1354.0,1042.8 1359.3,1038.6 1364.7,1053.8 1370.0,1077.1 1375.3,1082.2 1380.7,1093.3 1386.0,1084.8 1391.3,1089.3 1396.7,1083.3 1402.0,1072.0 1407.3,1073.1 1412.7,1063.1 1418.0,1036.5 1423.3,1036.2 1428.7,1058.3 1434.0,1087.5 1439.3,1080.1 1444.7,1078.3 1450.0,1076.3 1455.3,1072.7 1460.7,1070.9 1466.0,1054.9 1471.3,1071.4 1476.7,1077.2 1482.0,1073.1 1487.3,1072.6 1492.7,1098.6 1498.0,1114.8 1503.3,1145.3 1508.7,1139.9 1514.0,1145.0 1519.3,1136.2 1524.7,1123.7 1530.0,1131.8 1535.3,1141.8 1540.7,1146.3 1546.0,1144.9 1551.3,1139.1 1556.7,1127.3 1562.0,1136.8 1567.3,1128.3 1572.7,1126.7 1578.0,1139.8 1583.3,1136.3 1588.7,1145.8 1594.0,1149.9 1599.3,1151.5 1604.7,1150.5 1610.0,1164.6 1615.3,1158.4 1620.7,1163.8 1626.0,1167.7 1631.3,1158.6 1636.7,1162.8 1642.0,1152.8 1647.3,1145.5 1652.7,1146.5 1658.0,1147.7 1663.3,1153.6 1668.7,1155.5 1674.0,1148.8 1679.3,1143.3 1684.7,1125.3 1690.0,1106.9 1695.3,1099.9 1700.7,1096.9 1706.0,1087.1 1711.3,1088.1 1716.7,1096.1 1722.0,1106.4 1727.3,1097.4 1732.7,1091.8 1738.0,1079.7 1743.3,1077.6 1748.7,1075.1 1754.0,1066.5 1759.3,1064.4 1764.7,1056.5 1770.0,1048.6 1775.3,1048.0 1780.7,1095.8 1786.0,1090.7 1791.3,1086.4 1796.7,1093.9 1802.0,1087.7 1807.3,1085.2 1812.7,1081.0 1818.0,1067.9 1823.3,1067.6 1828.7,1065.2 1834.0,1057.6 1839.3,1070.0 1844.7,1072.1 1850.0,1088.6 1855.3,1086.0 1860.7,1106.0 1866.0,1100.9 1871.3,1098.3 1876.7,1111.8 1882.0,1117.0 1887.3,1096.7 1892.7,1095.9 1898.0,1117.1 1903.3,1124.0 1908.7,1124.7 1914.0,1151.0 1919.3,1140.8 1924.7,1154.5 1930.0,1143.9 1935.3,1137.7 1940.7,1131.5 1946.0,1155.9 1951.3,1132.2 1956.7,1128.1 1962.0,1130.1 1967.3,1127.7 1972.7,1120.8 1978.0,1107.4 1983.3,1114.9 1988.7,1113.6 1994.0,1137.6 1999.3,1142.7" fill="none" stroke="#1e90ff" stroke-opacity="0.9" stroke-width="1.4" stroke-linejoin="round"/>
</g>
<path d="M6,7.9 L14.2,7.9 L10.1,12.4 Z" fill="#000"/>
<text x="18.4" y="14.8" font-size="10.8" textLength="57.5" lengthAdjust="spacingAndGlyphs">SpotCrude,H4</text>
<text x="81.9" y="14.8" font-size="10.8" textLength="145.8" lengthAdjust="spacingAndGlyphs">104.497 104.659 102.120 103.406</text>
<text x="7.0" y="996.0" font-size="10.1" textLength="68.7" lengthAdjust="spacingAndGlyphs">RSI(14) 38.2686</text>
<g id="daxis">
<rect x="4.0" y="1242.9" width="1.4" height="1.6" fill="#303030"/>
<text x="3.8" y="1254.0" font-size="9.6" textLength="45.7" lengthAdjust="spacingAndGlyphs">3 Jan 2022</text>
<rect x="89.3" y="1242.9" width="1.4" height="1.6" fill="#303030"/>
<text x="89.1" y="1254.0" font-size="9.6" textLength="49.0" lengthAdjust="spacingAndGlyphs">6 Jan 13:00</text>
<rect x="174.6" y="1242.9" width="1.4" height="1.6" fill="#303030"/>
<text x="174.4" y="1254.0" font-size="9.6" textLength="54.2" lengthAdjust="spacingAndGlyphs">11 Jan 05:00</text>
<rect x="260.0" y="1242.9" width="1.4" height="1.6" fill="#303030"/>
<text x="259.8" y="1254.0" font-size="9.6" textLength="54.2" lengthAdjust="spacingAndGlyphs">13 Jan 21:00</text>
<rect x="345.3" y="1242.9" width="1.4" height="1.6" fill="#303030"/>
<text x="345.1" y="1254.0" font-size="9.6" textLength="54.2" lengthAdjust="spacingAndGlyphs">18 Jan 13:00</text>
<rect x="430.6" y="1242.9" width="1.4" height="1.6" fill="#303030"/>
<text x="430.4" y="1254.0" font-size="9.6" textLength="54.2" lengthAdjust="spacingAndGlyphs">21 Jan 05:00</text>
<rect x="516.0" y="1242.9" width="1.4" height="1.6" fill="#303030"/>
<text x="515.8" y="1254.0" font-size="9.6" textLength="54.2" lengthAdjust="spacingAndGlyphs">25 Jan 21:00</text>
<rect x="601.3" y="1242.9" width="1.4" height="1.6" fill="#303030"/>
<text x="601.1" y="1254.0" font-size="9.6" textLength="54.2" lengthAdjust="spacingAndGlyphs">28 Jan 13:00</text>
<rect x="686.6" y="1242.9" width="1.4" height="1.6" fill="#303030"/>
<text x="686.4" y="1254.0" font-size="9.6" textLength="50.0" lengthAdjust="spacingAndGlyphs">2 Feb 05:00</text>
<rect x="772.0" y="1242.9" width="1.4" height="1.6" fill="#303030"/>
<text x="771.8" y="1254.0" font-size="9.6" textLength="50.0" lengthAdjust="spacingAndGlyphs">4 Feb 21:00</text>
<rect x="857.3" y="1242.9" width="1.4" height="1.6" fill="#303030"/>
<text x="857.1" y="1254.0" font-size="9.6" textLength="50.0" lengthAdjust="spacingAndGlyphs">9 Feb 13:00</text>
<rect x="942.6" y="1242.9" width="1.4" height="1.6" fill="#303030"/>
<text x="942.4" y="1254.0" font-size="9.6" textLength="55.1" lengthAdjust="spacingAndGlyphs">14 Feb 05:00</text>
<rect x="1028.0" y="1242.9" width="1.4" height="1.6" fill="#303030"/>
<text x="1027.8" y="1254.0" font-size="9.6" textLength="55.1" lengthAdjust="spacingAndGlyphs">16 Feb 21:00</text>
<rect x="1113.3" y="1242.9" width="1.4" height="1.6" fill="#303030"/>
<text x="1113.1" y="1254.0" font-size="9.6" textLength="55.1" lengthAdjust="spacingAndGlyphs">21 Feb 13:00</text>
<rect x="1198.6" y="1242.9" width="1.4" height="1.6" fill="#303030"/>
<text x="1198.4" y="1254.0" font-size="9.6" textLength="55.1" lengthAdjust="spacingAndGlyphs">24 Feb 05:00</text>
<rect x="1284.0" y="1242.9" width="1.4" height="1.6" fill="#303030"/>
<text x="1283.8" y="1254.0" font-size="9.6" textLength="55.1" lengthAdjust="spacingAndGlyphs">28 Feb 21:00</text>
<rect x="1369.3" y="1242.9" width="1.4" height="1.6" fill="#303030"/>
<text x="1369.1" y="1254.0" font-size="9.6" textLength="50.5" lengthAdjust="spacingAndGlyphs">3 Mar 13:00</text>
<rect x="1454.6" y="1242.9" width="1.4" height="1.6" fill="#303030"/>
<text x="1454.4" y="1254.0" font-size="9.6" textLength="50.5" lengthAdjust="spacingAndGlyphs">8 Mar 05:00</text>
<rect x="1540.0" y="1242.9" width="1.4" height="1.6" fill="#303030"/>
<text x="1539.8" y="1254.0" font-size="9.6" textLength="55.6" lengthAdjust="spacingAndGlyphs">10 Mar 21:00</text>
<rect x="1625.3" y="1242.9" width="1.4" height="1.6" fill="#303030"/>
<text x="1625.1" y="1254.0" font-size="9.6" textLength="55.6" lengthAdjust="spacingAndGlyphs">15 Mar 13:00</text>
<rect x="1710.6" y="1242.9" width="1.4" height="1.6" fill="#303030"/>
<text x="1710.4" y="1254.0" font-size="9.6" textLength="55.6" lengthAdjust="spacingAndGlyphs">18 Mar 05:00</text>
<rect x="1796.0" y="1242.9" width="1.4" height="1.6" fill="#303030"/>
<text x="1795.8" y="1254.0" font-size="9.6" textLength="55.6" lengthAdjust="spacingAndGlyphs">22 Mar 21:00</text>
<rect x="1881.3" y="1242.9" width="1.4" height="1.6" fill="#303030"/>
<text x="1881.1" y="1254.0" font-size="9.6" textLength="55.6" lengthAdjust="spacingAndGlyphs">25 Mar 13:00</text>
<rect x="1966.6" y="1242.9" width="1.4" height="1.6" fill="#303030"/>
<text x="1966.4" y="1254.0" font-size="9.6" textLength="55.6" lengthAdjust="spacingAndGlyphs">30 Mar 05:00</text>
</g>
</svg></body></html>
